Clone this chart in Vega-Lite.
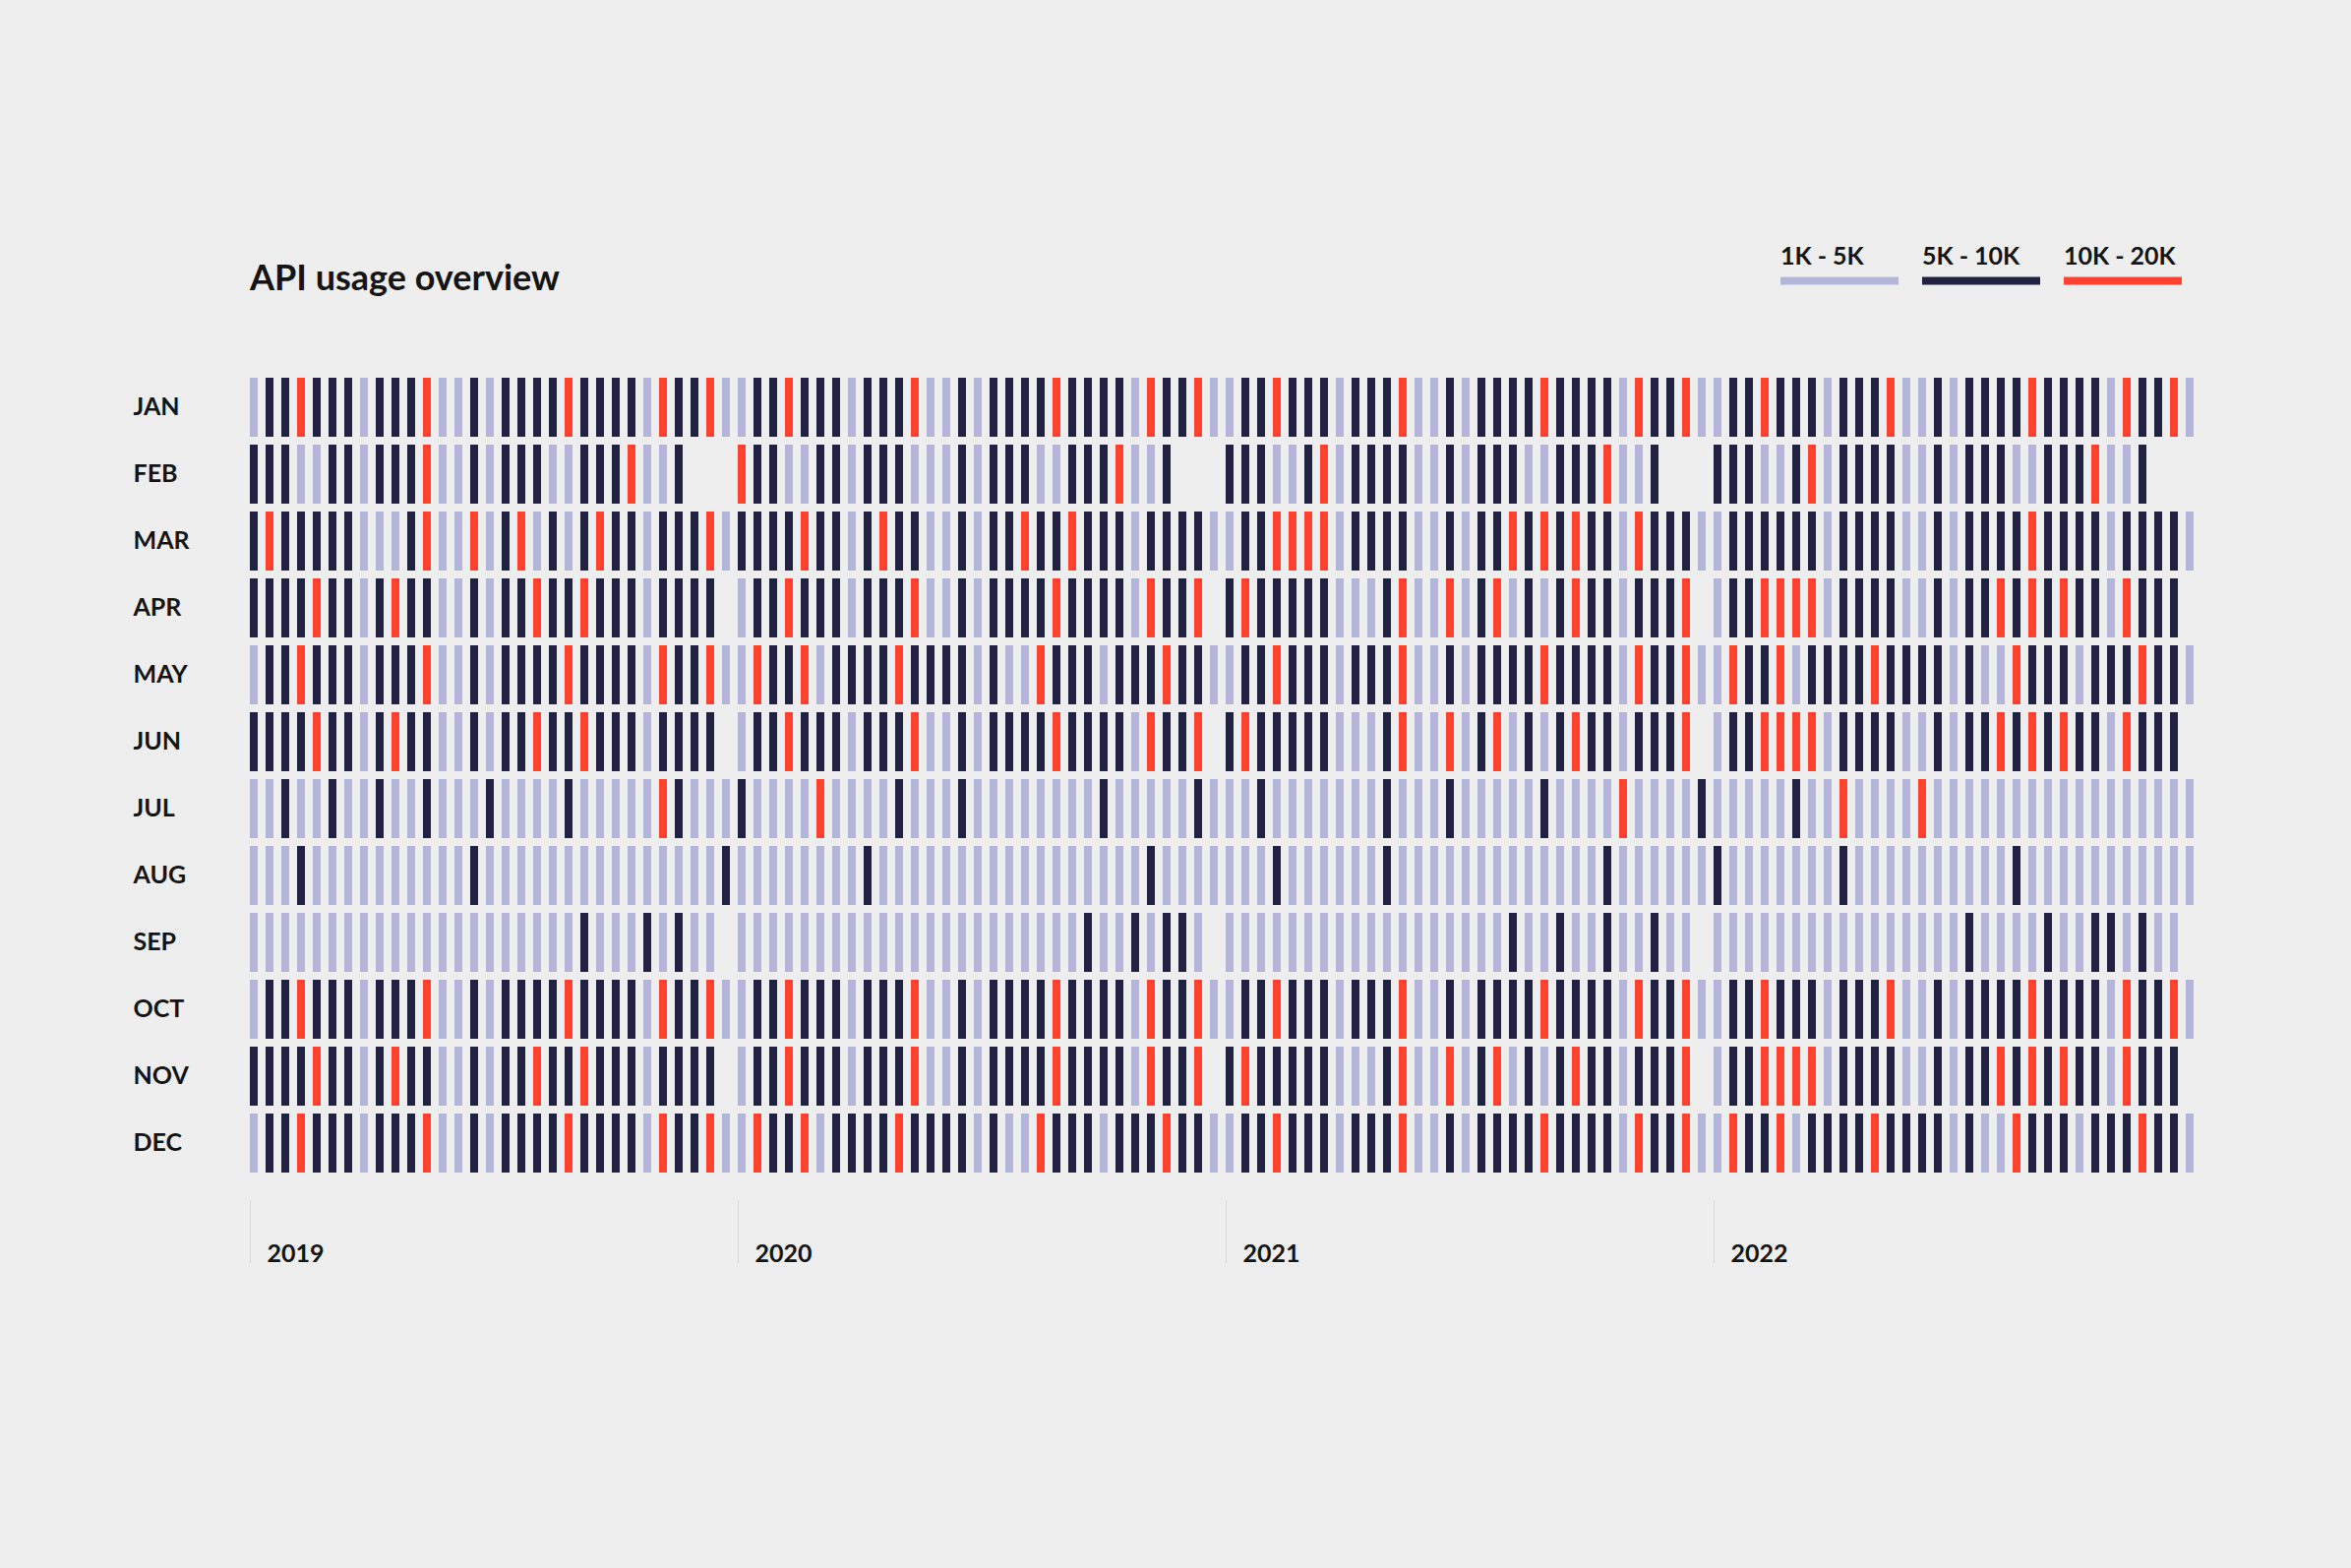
{"$schema":"https://vega.github.io/schema/vega-lite/v6.json","width":1984,"height":816,"autosize":{"type":"none"},"padding":{"left":250,"top":380,"right":156,"bottom":398},"background":"#eeeeee","title":{"text":"API usage overview","anchor":"start","frame":"group","orient":"top","offset":-66,"dx":4,"baseline":"alphabetic","font":"Lato","fontSize":36,"fontWeight":700,"color":"#141414"},"config":{"view":{"stroke":null}},
"data":{"values":[
{"year":2019,"month":"JAN","day":1,"usage":"low"},{"year":2019,"month":"JAN","day":2,"usage":"medium"},{"year":2019,"month":"JAN","day":3,"usage":"medium"},{"year":2019,"month":"JAN","day":4,"usage":"high"},{"year":2019,"month":"JAN","day":5,"usage":"medium"},{"year":2019,"month":"JAN","day":6,"usage":"medium"},{"year":2019,"month":"JAN","day":7,"usage":"medium"},{"year":2019,"month":"JAN","day":8,"usage":"low"},{"year":2019,"month":"JAN","day":9,"usage":"medium"},{"year":2019,"month":"JAN","day":10,"usage":"medium"},{"year":2019,"month":"JAN","day":11,"usage":"medium"},{"year":2019,"month":"JAN","day":12,"usage":"high"},{"year":2019,"month":"JAN","day":13,"usage":"low"},{"year":2019,"month":"JAN","day":14,"usage":"low"},{"year":2019,"month":"JAN","day":15,"usage":"medium"},{"year":2019,"month":"JAN","day":16,"usage":"low"},{"year":2019,"month":"JAN","day":17,"usage":"medium"},{"year":2019,"month":"JAN","day":18,"usage":"medium"},{"year":2019,"month":"JAN","day":19,"usage":"medium"},{"year":2019,"month":"JAN","day":20,"usage":"medium"},{"year":2019,"month":"JAN","day":21,"usage":"high"},{"year":2019,"month":"JAN","day":22,"usage":"medium"},{"year":2019,"month":"JAN","day":23,"usage":"medium"},{"year":2019,"month":"JAN","day":24,"usage":"medium"},{"year":2019,"month":"JAN","day":25,"usage":"medium"},{"year":2019,"month":"JAN","day":26,"usage":"low"},{"year":2019,"month":"JAN","day":27,"usage":"high"},{"year":2019,"month":"JAN","day":28,"usage":"medium"},{"year":2019,"month":"JAN","day":29,"usage":"medium"},{"year":2019,"month":"JAN","day":30,"usage":"high"},{"year":2019,"month":"JAN","day":31,"usage":"low"},
{"year":2019,"month":"FEB","day":1,"usage":"medium"},{"year":2019,"month":"FEB","day":2,"usage":"medium"},{"year":2019,"month":"FEB","day":3,"usage":"medium"},{"year":2019,"month":"FEB","day":4,"usage":"low"},{"year":2019,"month":"FEB","day":5,"usage":"low"},{"year":2019,"month":"FEB","day":6,"usage":"medium"},{"year":2019,"month":"FEB","day":7,"usage":"medium"},{"year":2019,"month":"FEB","day":8,"usage":"low"},{"year":2019,"month":"FEB","day":9,"usage":"medium"},{"year":2019,"month":"FEB","day":10,"usage":"medium"},{"year":2019,"month":"FEB","day":11,"usage":"medium"},{"year":2019,"month":"FEB","day":12,"usage":"high"},{"year":2019,"month":"FEB","day":13,"usage":"low"},{"year":2019,"month":"FEB","day":14,"usage":"low"},{"year":2019,"month":"FEB","day":15,"usage":"medium"},{"year":2019,"month":"FEB","day":16,"usage":"low"},{"year":2019,"month":"FEB","day":17,"usage":"medium"},{"year":2019,"month":"FEB","day":18,"usage":"medium"},{"year":2019,"month":"FEB","day":19,"usage":"medium"},{"year":2019,"month":"FEB","day":20,"usage":"low"},{"year":2019,"month":"FEB","day":21,"usage":"low"},{"year":2019,"month":"FEB","day":22,"usage":"medium"},{"year":2019,"month":"FEB","day":23,"usage":"medium"},{"year":2019,"month":"FEB","day":24,"usage":"medium"},{"year":2019,"month":"FEB","day":25,"usage":"high"},{"year":2019,"month":"FEB","day":26,"usage":"low"},{"year":2019,"month":"FEB","day":27,"usage":"low"},{"year":2019,"month":"FEB","day":28,"usage":"medium"},
{"year":2019,"month":"MAR","day":1,"usage":"medium"},{"year":2019,"month":"MAR","day":2,"usage":"high"},{"year":2019,"month":"MAR","day":3,"usage":"medium"},{"year":2019,"month":"MAR","day":4,"usage":"medium"},{"year":2019,"month":"MAR","day":5,"usage":"medium"},{"year":2019,"month":"MAR","day":6,"usage":"medium"},{"year":2019,"month":"MAR","day":7,"usage":"medium"},{"year":2019,"month":"MAR","day":8,"usage":"low"},{"year":2019,"month":"MAR","day":9,"usage":"low"},{"year":2019,"month":"MAR","day":10,"usage":"low"},{"year":2019,"month":"MAR","day":11,"usage":"medium"},{"year":2019,"month":"MAR","day":12,"usage":"high"},{"year":2019,"month":"MAR","day":13,"usage":"low"},{"year":2019,"month":"MAR","day":14,"usage":"low"},{"year":2019,"month":"MAR","day":15,"usage":"high"},{"year":2019,"month":"MAR","day":16,"usage":"low"},{"year":2019,"month":"MAR","day":17,"usage":"medium"},{"year":2019,"month":"MAR","day":18,"usage":"high"},{"year":2019,"month":"MAR","day":19,"usage":"low"},{"year":2019,"month":"MAR","day":20,"usage":"medium"},{"year":2019,"month":"MAR","day":21,"usage":"low"},{"year":2019,"month":"MAR","day":22,"usage":"medium"},{"year":2019,"month":"MAR","day":23,"usage":"high"},{"year":2019,"month":"MAR","day":24,"usage":"medium"},{"year":2019,"month":"MAR","day":25,"usage":"medium"},{"year":2019,"month":"MAR","day":26,"usage":"low"},{"year":2019,"month":"MAR","day":27,"usage":"medium"},{"year":2019,"month":"MAR","day":28,"usage":"medium"},{"year":2019,"month":"MAR","day":29,"usage":"medium"},{"year":2019,"month":"MAR","day":30,"usage":"high"},{"year":2019,"month":"MAR","day":31,"usage":"low"},
{"year":2019,"month":"APR","day":1,"usage":"medium"},{"year":2019,"month":"APR","day":2,"usage":"medium"},{"year":2019,"month":"APR","day":3,"usage":"medium"},{"year":2019,"month":"APR","day":4,"usage":"medium"},{"year":2019,"month":"APR","day":5,"usage":"high"},{"year":2019,"month":"APR","day":6,"usage":"medium"},{"year":2019,"month":"APR","day":7,"usage":"medium"},{"year":2019,"month":"APR","day":8,"usage":"low"},{"year":2019,"month":"APR","day":9,"usage":"medium"},{"year":2019,"month":"APR","day":10,"usage":"high"},{"year":2019,"month":"APR","day":11,"usage":"medium"},{"year":2019,"month":"APR","day":12,"usage":"medium"},{"year":2019,"month":"APR","day":13,"usage":"low"},{"year":2019,"month":"APR","day":14,"usage":"low"},{"year":2019,"month":"APR","day":15,"usage":"medium"},{"year":2019,"month":"APR","day":16,"usage":"low"},{"year":2019,"month":"APR","day":17,"usage":"medium"},{"year":2019,"month":"APR","day":18,"usage":"medium"},{"year":2019,"month":"APR","day":19,"usage":"high"},{"year":2019,"month":"APR","day":20,"usage":"medium"},{"year":2019,"month":"APR","day":21,"usage":"medium"},{"year":2019,"month":"APR","day":22,"usage":"high"},{"year":2019,"month":"APR","day":23,"usage":"medium"},{"year":2019,"month":"APR","day":24,"usage":"medium"},{"year":2019,"month":"APR","day":25,"usage":"medium"},{"year":2019,"month":"APR","day":26,"usage":"low"},{"year":2019,"month":"APR","day":27,"usage":"medium"},{"year":2019,"month":"APR","day":28,"usage":"medium"},{"year":2019,"month":"APR","day":29,"usage":"medium"},{"year":2019,"month":"APR","day":30,"usage":"medium"},
{"year":2019,"month":"MAY","day":1,"usage":"low"},{"year":2019,"month":"MAY","day":2,"usage":"medium"},{"year":2019,"month":"MAY","day":3,"usage":"medium"},{"year":2019,"month":"MAY","day":4,"usage":"high"},{"year":2019,"month":"MAY","day":5,"usage":"medium"},{"year":2019,"month":"MAY","day":6,"usage":"medium"},{"year":2019,"month":"MAY","day":7,"usage":"medium"},{"year":2019,"month":"MAY","day":8,"usage":"low"},{"year":2019,"month":"MAY","day":9,"usage":"medium"},{"year":2019,"month":"MAY","day":10,"usage":"medium"},{"year":2019,"month":"MAY","day":11,"usage":"medium"},{"year":2019,"month":"MAY","day":12,"usage":"high"},{"year":2019,"month":"MAY","day":13,"usage":"low"},{"year":2019,"month":"MAY","day":14,"usage":"low"},{"year":2019,"month":"MAY","day":15,"usage":"medium"},{"year":2019,"month":"MAY","day":16,"usage":"low"},{"year":2019,"month":"MAY","day":17,"usage":"medium"},{"year":2019,"month":"MAY","day":18,"usage":"medium"},{"year":2019,"month":"MAY","day":19,"usage":"medium"},{"year":2019,"month":"MAY","day":20,"usage":"medium"},{"year":2019,"month":"MAY","day":21,"usage":"high"},{"year":2019,"month":"MAY","day":22,"usage":"medium"},{"year":2019,"month":"MAY","day":23,"usage":"medium"},{"year":2019,"month":"MAY","day":24,"usage":"medium"},{"year":2019,"month":"MAY","day":25,"usage":"medium"},{"year":2019,"month":"MAY","day":26,"usage":"low"},{"year":2019,"month":"MAY","day":27,"usage":"high"},{"year":2019,"month":"MAY","day":28,"usage":"medium"},{"year":2019,"month":"MAY","day":29,"usage":"medium"},{"year":2019,"month":"MAY","day":30,"usage":"high"},{"year":2019,"month":"MAY","day":31,"usage":"low"},
{"year":2019,"month":"JUN","day":1,"usage":"medium"},{"year":2019,"month":"JUN","day":2,"usage":"medium"},{"year":2019,"month":"JUN","day":3,"usage":"medium"},{"year":2019,"month":"JUN","day":4,"usage":"medium"},{"year":2019,"month":"JUN","day":5,"usage":"high"},{"year":2019,"month":"JUN","day":6,"usage":"medium"},{"year":2019,"month":"JUN","day":7,"usage":"medium"},{"year":2019,"month":"JUN","day":8,"usage":"low"},{"year":2019,"month":"JUN","day":9,"usage":"medium"},{"year":2019,"month":"JUN","day":10,"usage":"high"},{"year":2019,"month":"JUN","day":11,"usage":"medium"},{"year":2019,"month":"JUN","day":12,"usage":"medium"},{"year":2019,"month":"JUN","day":13,"usage":"low"},{"year":2019,"month":"JUN","day":14,"usage":"low"},{"year":2019,"month":"JUN","day":15,"usage":"medium"},{"year":2019,"month":"JUN","day":16,"usage":"low"},{"year":2019,"month":"JUN","day":17,"usage":"medium"},{"year":2019,"month":"JUN","day":18,"usage":"medium"},{"year":2019,"month":"JUN","day":19,"usage":"high"},{"year":2019,"month":"JUN","day":20,"usage":"medium"},{"year":2019,"month":"JUN","day":21,"usage":"medium"},{"year":2019,"month":"JUN","day":22,"usage":"high"},{"year":2019,"month":"JUN","day":23,"usage":"medium"},{"year":2019,"month":"JUN","day":24,"usage":"medium"},{"year":2019,"month":"JUN","day":25,"usage":"medium"},{"year":2019,"month":"JUN","day":26,"usage":"low"},{"year":2019,"month":"JUN","day":27,"usage":"medium"},{"year":2019,"month":"JUN","day":28,"usage":"medium"},{"year":2019,"month":"JUN","day":29,"usage":"medium"},{"year":2019,"month":"JUN","day":30,"usage":"medium"},
{"year":2019,"month":"JUL","day":1,"usage":"low"},{"year":2019,"month":"JUL","day":2,"usage":"low"},{"year":2019,"month":"JUL","day":3,"usage":"medium"},{"year":2019,"month":"JUL","day":4,"usage":"low"},{"year":2019,"month":"JUL","day":5,"usage":"low"},{"year":2019,"month":"JUL","day":6,"usage":"medium"},{"year":2019,"month":"JUL","day":7,"usage":"low"},{"year":2019,"month":"JUL","day":8,"usage":"low"},{"year":2019,"month":"JUL","day":9,"usage":"medium"},{"year":2019,"month":"JUL","day":10,"usage":"low"},{"year":2019,"month":"JUL","day":11,"usage":"low"},{"year":2019,"month":"JUL","day":12,"usage":"medium"},{"year":2019,"month":"JUL","day":13,"usage":"low"},{"year":2019,"month":"JUL","day":14,"usage":"low"},{"year":2019,"month":"JUL","day":15,"usage":"low"},{"year":2019,"month":"JUL","day":16,"usage":"medium"},{"year":2019,"month":"JUL","day":17,"usage":"low"},{"year":2019,"month":"JUL","day":18,"usage":"low"},{"year":2019,"month":"JUL","day":19,"usage":"low"},{"year":2019,"month":"JUL","day":20,"usage":"low"},{"year":2019,"month":"JUL","day":21,"usage":"medium"},{"year":2019,"month":"JUL","day":22,"usage":"low"},{"year":2019,"month":"JUL","day":23,"usage":"low"},{"year":2019,"month":"JUL","day":24,"usage":"low"},{"year":2019,"month":"JUL","day":25,"usage":"low"},{"year":2019,"month":"JUL","day":26,"usage":"low"},{"year":2019,"month":"JUL","day":27,"usage":"high"},{"year":2019,"month":"JUL","day":28,"usage":"medium"},{"year":2019,"month":"JUL","day":29,"usage":"low"},{"year":2019,"month":"JUL","day":30,"usage":"low"},{"year":2019,"month":"JUL","day":31,"usage":"low"},
{"year":2019,"month":"AUG","day":1,"usage":"low"},{"year":2019,"month":"AUG","day":2,"usage":"low"},{"year":2019,"month":"AUG","day":3,"usage":"low"},{"year":2019,"month":"AUG","day":4,"usage":"medium"},{"year":2019,"month":"AUG","day":5,"usage":"low"},{"year":2019,"month":"AUG","day":6,"usage":"low"},{"year":2019,"month":"AUG","day":7,"usage":"low"},{"year":2019,"month":"AUG","day":8,"usage":"low"},{"year":2019,"month":"AUG","day":9,"usage":"low"},{"year":2019,"month":"AUG","day":10,"usage":"low"},{"year":2019,"month":"AUG","day":11,"usage":"low"},{"year":2019,"month":"AUG","day":12,"usage":"low"},{"year":2019,"month":"AUG","day":13,"usage":"low"},{"year":2019,"month":"AUG","day":14,"usage":"low"},{"year":2019,"month":"AUG","day":15,"usage":"medium"},{"year":2019,"month":"AUG","day":16,"usage":"low"},{"year":2019,"month":"AUG","day":17,"usage":"low"},{"year":2019,"month":"AUG","day":18,"usage":"low"},{"year":2019,"month":"AUG","day":19,"usage":"low"},{"year":2019,"month":"AUG","day":20,"usage":"low"},{"year":2019,"month":"AUG","day":21,"usage":"low"},{"year":2019,"month":"AUG","day":22,"usage":"low"},{"year":2019,"month":"AUG","day":23,"usage":"low"},{"year":2019,"month":"AUG","day":24,"usage":"low"},{"year":2019,"month":"AUG","day":25,"usage":"low"},{"year":2019,"month":"AUG","day":26,"usage":"low"},{"year":2019,"month":"AUG","day":27,"usage":"low"},{"year":2019,"month":"AUG","day":28,"usage":"low"},{"year":2019,"month":"AUG","day":29,"usage":"low"},{"year":2019,"month":"AUG","day":30,"usage":"low"},{"year":2019,"month":"AUG","day":31,"usage":"medium"},
{"year":2019,"month":"SEP","day":1,"usage":"low"},{"year":2019,"month":"SEP","day":2,"usage":"low"},{"year":2019,"month":"SEP","day":3,"usage":"low"},{"year":2019,"month":"SEP","day":4,"usage":"low"},{"year":2019,"month":"SEP","day":5,"usage":"low"},{"year":2019,"month":"SEP","day":6,"usage":"low"},{"year":2019,"month":"SEP","day":7,"usage":"low"},{"year":2019,"month":"SEP","day":8,"usage":"low"},{"year":2019,"month":"SEP","day":9,"usage":"low"},{"year":2019,"month":"SEP","day":10,"usage":"low"},{"year":2019,"month":"SEP","day":11,"usage":"low"},{"year":2019,"month":"SEP","day":12,"usage":"low"},{"year":2019,"month":"SEP","day":13,"usage":"low"},{"year":2019,"month":"SEP","day":14,"usage":"low"},{"year":2019,"month":"SEP","day":15,"usage":"low"},{"year":2019,"month":"SEP","day":16,"usage":"low"},{"year":2019,"month":"SEP","day":17,"usage":"low"},{"year":2019,"month":"SEP","day":18,"usage":"low"},{"year":2019,"month":"SEP","day":19,"usage":"low"},{"year":2019,"month":"SEP","day":20,"usage":"low"},{"year":2019,"month":"SEP","day":21,"usage":"low"},{"year":2019,"month":"SEP","day":22,"usage":"medium"},{"year":2019,"month":"SEP","day":23,"usage":"low"},{"year":2019,"month":"SEP","day":24,"usage":"low"},{"year":2019,"month":"SEP","day":25,"usage":"low"},{"year":2019,"month":"SEP","day":26,"usage":"medium"},{"year":2019,"month":"SEP","day":27,"usage":"low"},{"year":2019,"month":"SEP","day":28,"usage":"medium"},{"year":2019,"month":"SEP","day":29,"usage":"low"},{"year":2019,"month":"SEP","day":30,"usage":"low"},
{"year":2019,"month":"OCT","day":1,"usage":"low"},{"year":2019,"month":"OCT","day":2,"usage":"medium"},{"year":2019,"month":"OCT","day":3,"usage":"medium"},{"year":2019,"month":"OCT","day":4,"usage":"high"},{"year":2019,"month":"OCT","day":5,"usage":"medium"},{"year":2019,"month":"OCT","day":6,"usage":"medium"},{"year":2019,"month":"OCT","day":7,"usage":"medium"},{"year":2019,"month":"OCT","day":8,"usage":"low"},{"year":2019,"month":"OCT","day":9,"usage":"medium"},{"year":2019,"month":"OCT","day":10,"usage":"medium"},{"year":2019,"month":"OCT","day":11,"usage":"medium"},{"year":2019,"month":"OCT","day":12,"usage":"high"},{"year":2019,"month":"OCT","day":13,"usage":"low"},{"year":2019,"month":"OCT","day":14,"usage":"low"},{"year":2019,"month":"OCT","day":15,"usage":"medium"},{"year":2019,"month":"OCT","day":16,"usage":"low"},{"year":2019,"month":"OCT","day":17,"usage":"medium"},{"year":2019,"month":"OCT","day":18,"usage":"medium"},{"year":2019,"month":"OCT","day":19,"usage":"medium"},{"year":2019,"month":"OCT","day":20,"usage":"medium"},{"year":2019,"month":"OCT","day":21,"usage":"high"},{"year":2019,"month":"OCT","day":22,"usage":"medium"},{"year":2019,"month":"OCT","day":23,"usage":"medium"},{"year":2019,"month":"OCT","day":24,"usage":"medium"},{"year":2019,"month":"OCT","day":25,"usage":"medium"},{"year":2019,"month":"OCT","day":26,"usage":"low"},{"year":2019,"month":"OCT","day":27,"usage":"high"},{"year":2019,"month":"OCT","day":28,"usage":"medium"},{"year":2019,"month":"OCT","day":29,"usage":"medium"},{"year":2019,"month":"OCT","day":30,"usage":"high"},{"year":2019,"month":"OCT","day":31,"usage":"low"},
{"year":2019,"month":"NOV","day":1,"usage":"medium"},{"year":2019,"month":"NOV","day":2,"usage":"medium"},{"year":2019,"month":"NOV","day":3,"usage":"medium"},{"year":2019,"month":"NOV","day":4,"usage":"medium"},{"year":2019,"month":"NOV","day":5,"usage":"high"},{"year":2019,"month":"NOV","day":6,"usage":"medium"},{"year":2019,"month":"NOV","day":7,"usage":"medium"},{"year":2019,"month":"NOV","day":8,"usage":"low"},{"year":2019,"month":"NOV","day":9,"usage":"medium"},{"year":2019,"month":"NOV","day":10,"usage":"high"},{"year":2019,"month":"NOV","day":11,"usage":"medium"},{"year":2019,"month":"NOV","day":12,"usage":"medium"},{"year":2019,"month":"NOV","day":13,"usage":"low"},{"year":2019,"month":"NOV","day":14,"usage":"low"},{"year":2019,"month":"NOV","day":15,"usage":"medium"},{"year":2019,"month":"NOV","day":16,"usage":"low"},{"year":2019,"month":"NOV","day":17,"usage":"medium"},{"year":2019,"month":"NOV","day":18,"usage":"medium"},{"year":2019,"month":"NOV","day":19,"usage":"high"},{"year":2019,"month":"NOV","day":20,"usage":"medium"},{"year":2019,"month":"NOV","day":21,"usage":"medium"},{"year":2019,"month":"NOV","day":22,"usage":"high"},{"year":2019,"month":"NOV","day":23,"usage":"medium"},{"year":2019,"month":"NOV","day":24,"usage":"medium"},{"year":2019,"month":"NOV","day":25,"usage":"medium"},{"year":2019,"month":"NOV","day":26,"usage":"low"},{"year":2019,"month":"NOV","day":27,"usage":"medium"},{"year":2019,"month":"NOV","day":28,"usage":"medium"},{"year":2019,"month":"NOV","day":29,"usage":"medium"},{"year":2019,"month":"NOV","day":30,"usage":"medium"},
{"year":2019,"month":"DEC","day":1,"usage":"low"},{"year":2019,"month":"DEC","day":2,"usage":"medium"},{"year":2019,"month":"DEC","day":3,"usage":"medium"},{"year":2019,"month":"DEC","day":4,"usage":"high"},{"year":2019,"month":"DEC","day":5,"usage":"medium"},{"year":2019,"month":"DEC","day":6,"usage":"medium"},{"year":2019,"month":"DEC","day":7,"usage":"medium"},{"year":2019,"month":"DEC","day":8,"usage":"low"},{"year":2019,"month":"DEC","day":9,"usage":"medium"},{"year":2019,"month":"DEC","day":10,"usage":"medium"},{"year":2019,"month":"DEC","day":11,"usage":"medium"},{"year":2019,"month":"DEC","day":12,"usage":"high"},{"year":2019,"month":"DEC","day":13,"usage":"low"},{"year":2019,"month":"DEC","day":14,"usage":"low"},{"year":2019,"month":"DEC","day":15,"usage":"medium"},{"year":2019,"month":"DEC","day":16,"usage":"low"},{"year":2019,"month":"DEC","day":17,"usage":"medium"},{"year":2019,"month":"DEC","day":18,"usage":"medium"},{"year":2019,"month":"DEC","day":19,"usage":"medium"},{"year":2019,"month":"DEC","day":20,"usage":"medium"},{"year":2019,"month":"DEC","day":21,"usage":"high"},{"year":2019,"month":"DEC","day":22,"usage":"medium"},{"year":2019,"month":"DEC","day":23,"usage":"medium"},{"year":2019,"month":"DEC","day":24,"usage":"medium"},{"year":2019,"month":"DEC","day":25,"usage":"medium"},{"year":2019,"month":"DEC","day":26,"usage":"low"},{"year":2019,"month":"DEC","day":27,"usage":"high"},{"year":2019,"month":"DEC","day":28,"usage":"medium"},{"year":2019,"month":"DEC","day":29,"usage":"medium"},{"year":2019,"month":"DEC","day":30,"usage":"high"},{"year":2019,"month":"DEC","day":31,"usage":"low"},
{"year":2020,"month":"JAN","day":1,"usage":"low"},{"year":2020,"month":"JAN","day":2,"usage":"medium"},{"year":2020,"month":"JAN","day":3,"usage":"medium"},{"year":2020,"month":"JAN","day":4,"usage":"high"},{"year":2020,"month":"JAN","day":5,"usage":"medium"},{"year":2020,"month":"JAN","day":6,"usage":"medium"},{"year":2020,"month":"JAN","day":7,"usage":"medium"},{"year":2020,"month":"JAN","day":8,"usage":"low"},{"year":2020,"month":"JAN","day":9,"usage":"medium"},{"year":2020,"month":"JAN","day":10,"usage":"medium"},{"year":2020,"month":"JAN","day":11,"usage":"medium"},{"year":2020,"month":"JAN","day":12,"usage":"high"},{"year":2020,"month":"JAN","day":13,"usage":"low"},{"year":2020,"month":"JAN","day":14,"usage":"low"},{"year":2020,"month":"JAN","day":15,"usage":"medium"},{"year":2020,"month":"JAN","day":16,"usage":"low"},{"year":2020,"month":"JAN","day":17,"usage":"medium"},{"year":2020,"month":"JAN","day":18,"usage":"medium"},{"year":2020,"month":"JAN","day":19,"usage":"medium"},{"year":2020,"month":"JAN","day":20,"usage":"medium"},{"year":2020,"month":"JAN","day":21,"usage":"high"},{"year":2020,"month":"JAN","day":22,"usage":"medium"},{"year":2020,"month":"JAN","day":23,"usage":"medium"},{"year":2020,"month":"JAN","day":24,"usage":"medium"},{"year":2020,"month":"JAN","day":25,"usage":"medium"},{"year":2020,"month":"JAN","day":26,"usage":"low"},{"year":2020,"month":"JAN","day":27,"usage":"high"},{"year":2020,"month":"JAN","day":28,"usage":"medium"},{"year":2020,"month":"JAN","day":29,"usage":"medium"},{"year":2020,"month":"JAN","day":30,"usage":"high"},{"year":2020,"month":"JAN","day":31,"usage":"low"},
{"year":2020,"month":"FEB","day":1,"usage":"high"},{"year":2020,"month":"FEB","day":2,"usage":"medium"},{"year":2020,"month":"FEB","day":3,"usage":"medium"},{"year":2020,"month":"FEB","day":4,"usage":"low"},{"year":2020,"month":"FEB","day":5,"usage":"low"},{"year":2020,"month":"FEB","day":6,"usage":"medium"},{"year":2020,"month":"FEB","day":7,"usage":"medium"},{"year":2020,"month":"FEB","day":8,"usage":"low"},{"year":2020,"month":"FEB","day":9,"usage":"medium"},{"year":2020,"month":"FEB","day":10,"usage":"medium"},{"year":2020,"month":"FEB","day":11,"usage":"medium"},{"year":2020,"month":"FEB","day":12,"usage":"low"},{"year":2020,"month":"FEB","day":13,"usage":"low"},{"year":2020,"month":"FEB","day":14,"usage":"low"},{"year":2020,"month":"FEB","day":15,"usage":"medium"},{"year":2020,"month":"FEB","day":16,"usage":"low"},{"year":2020,"month":"FEB","day":17,"usage":"medium"},{"year":2020,"month":"FEB","day":18,"usage":"medium"},{"year":2020,"month":"FEB","day":19,"usage":"medium"},{"year":2020,"month":"FEB","day":20,"usage":"low"},{"year":2020,"month":"FEB","day":21,"usage":"low"},{"year":2020,"month":"FEB","day":22,"usage":"medium"},{"year":2020,"month":"FEB","day":23,"usage":"medium"},{"year":2020,"month":"FEB","day":24,"usage":"medium"},{"year":2020,"month":"FEB","day":25,"usage":"high"},{"year":2020,"month":"FEB","day":26,"usage":"low"},{"year":2020,"month":"FEB","day":27,"usage":"low"},{"year":2020,"month":"FEB","day":28,"usage":"medium"},
{"year":2020,"month":"MAR","day":1,"usage":"medium"},{"year":2020,"month":"MAR","day":2,"usage":"medium"},{"year":2020,"month":"MAR","day":3,"usage":"medium"},{"year":2020,"month":"MAR","day":4,"usage":"medium"},{"year":2020,"month":"MAR","day":5,"usage":"high"},{"year":2020,"month":"MAR","day":6,"usage":"medium"},{"year":2020,"month":"MAR","day":7,"usage":"medium"},{"year":2020,"month":"MAR","day":8,"usage":"low"},{"year":2020,"month":"MAR","day":9,"usage":"medium"},{"year":2020,"month":"MAR","day":10,"usage":"high"},{"year":2020,"month":"MAR","day":11,"usage":"medium"},{"year":2020,"month":"MAR","day":12,"usage":"medium"},{"year":2020,"month":"MAR","day":13,"usage":"low"},{"year":2020,"month":"MAR","day":14,"usage":"low"},{"year":2020,"month":"MAR","day":15,"usage":"medium"},{"year":2020,"month":"MAR","day":16,"usage":"low"},{"year":2020,"month":"MAR","day":17,"usage":"medium"},{"year":2020,"month":"MAR","day":18,"usage":"medium"},{"year":2020,"month":"MAR","day":19,"usage":"high"},{"year":2020,"month":"MAR","day":20,"usage":"medium"},{"year":2020,"month":"MAR","day":21,"usage":"medium"},{"year":2020,"month":"MAR","day":22,"usage":"high"},{"year":2020,"month":"MAR","day":23,"usage":"medium"},{"year":2020,"month":"MAR","day":24,"usage":"medium"},{"year":2020,"month":"MAR","day":25,"usage":"medium"},{"year":2020,"month":"MAR","day":26,"usage":"low"},{"year":2020,"month":"MAR","day":27,"usage":"medium"},{"year":2020,"month":"MAR","day":28,"usage":"medium"},{"year":2020,"month":"MAR","day":29,"usage":"medium"},{"year":2020,"month":"MAR","day":30,"usage":"medium"},{"year":2020,"month":"MAR","day":31,"usage":"low"},
{"year":2020,"month":"APR","day":1,"usage":"low"},{"year":2020,"month":"APR","day":2,"usage":"medium"},{"year":2020,"month":"APR","day":3,"usage":"medium"},{"year":2020,"month":"APR","day":4,"usage":"high"},{"year":2020,"month":"APR","day":5,"usage":"medium"},{"year":2020,"month":"APR","day":6,"usage":"medium"},{"year":2020,"month":"APR","day":7,"usage":"medium"},{"year":2020,"month":"APR","day":8,"usage":"low"},{"year":2020,"month":"APR","day":9,"usage":"medium"},{"year":2020,"month":"APR","day":10,"usage":"medium"},{"year":2020,"month":"APR","day":11,"usage":"medium"},{"year":2020,"month":"APR","day":12,"usage":"high"},{"year":2020,"month":"APR","day":13,"usage":"low"},{"year":2020,"month":"APR","day":14,"usage":"low"},{"year":2020,"month":"APR","day":15,"usage":"medium"},{"year":2020,"month":"APR","day":16,"usage":"low"},{"year":2020,"month":"APR","day":17,"usage":"medium"},{"year":2020,"month":"APR","day":18,"usage":"medium"},{"year":2020,"month":"APR","day":19,"usage":"medium"},{"year":2020,"month":"APR","day":20,"usage":"medium"},{"year":2020,"month":"APR","day":21,"usage":"high"},{"year":2020,"month":"APR","day":22,"usage":"medium"},{"year":2020,"month":"APR","day":23,"usage":"medium"},{"year":2020,"month":"APR","day":24,"usage":"medium"},{"year":2020,"month":"APR","day":25,"usage":"medium"},{"year":2020,"month":"APR","day":26,"usage":"low"},{"year":2020,"month":"APR","day":27,"usage":"high"},{"year":2020,"month":"APR","day":28,"usage":"medium"},{"year":2020,"month":"APR","day":29,"usage":"medium"},{"year":2020,"month":"APR","day":30,"usage":"high"},
{"year":2020,"month":"MAY","day":1,"usage":"low"},{"year":2020,"month":"MAY","day":2,"usage":"high"},{"year":2020,"month":"MAY","day":3,"usage":"medium"},{"year":2020,"month":"MAY","day":4,"usage":"medium"},{"year":2020,"month":"MAY","day":5,"usage":"high"},{"year":2020,"month":"MAY","day":6,"usage":"low"},{"year":2020,"month":"MAY","day":7,"usage":"medium"},{"year":2020,"month":"MAY","day":8,"usage":"medium"},{"year":2020,"month":"MAY","day":9,"usage":"medium"},{"year":2020,"month":"MAY","day":10,"usage":"medium"},{"year":2020,"month":"MAY","day":11,"usage":"high"},{"year":2020,"month":"MAY","day":12,"usage":"medium"},{"year":2020,"month":"MAY","day":13,"usage":"medium"},{"year":2020,"month":"MAY","day":14,"usage":"medium"},{"year":2020,"month":"MAY","day":15,"usage":"medium"},{"year":2020,"month":"MAY","day":16,"usage":"low"},{"year":2020,"month":"MAY","day":17,"usage":"medium"},{"year":2020,"month":"MAY","day":18,"usage":"low"},{"year":2020,"month":"MAY","day":19,"usage":"low"},{"year":2020,"month":"MAY","day":20,"usage":"high"},{"year":2020,"month":"MAY","day":21,"usage":"medium"},{"year":2020,"month":"MAY","day":22,"usage":"medium"},{"year":2020,"month":"MAY","day":23,"usage":"medium"},{"year":2020,"month":"MAY","day":24,"usage":"low"},{"year":2020,"month":"MAY","day":25,"usage":"medium"},{"year":2020,"month":"MAY","day":26,"usage":"medium"},{"year":2020,"month":"MAY","day":27,"usage":"medium"},{"year":2020,"month":"MAY","day":28,"usage":"high"},{"year":2020,"month":"MAY","day":29,"usage":"medium"},{"year":2020,"month":"MAY","day":30,"usage":"medium"},{"year":2020,"month":"MAY","day":31,"usage":"low"},
{"year":2020,"month":"JUN","day":1,"usage":"low"},{"year":2020,"month":"JUN","day":2,"usage":"medium"},{"year":2020,"month":"JUN","day":3,"usage":"medium"},{"year":2020,"month":"JUN","day":4,"usage":"high"},{"year":2020,"month":"JUN","day":5,"usage":"medium"},{"year":2020,"month":"JUN","day":6,"usage":"medium"},{"year":2020,"month":"JUN","day":7,"usage":"medium"},{"year":2020,"month":"JUN","day":8,"usage":"low"},{"year":2020,"month":"JUN","day":9,"usage":"medium"},{"year":2020,"month":"JUN","day":10,"usage":"medium"},{"year":2020,"month":"JUN","day":11,"usage":"medium"},{"year":2020,"month":"JUN","day":12,"usage":"high"},{"year":2020,"month":"JUN","day":13,"usage":"low"},{"year":2020,"month":"JUN","day":14,"usage":"low"},{"year":2020,"month":"JUN","day":15,"usage":"medium"},{"year":2020,"month":"JUN","day":16,"usage":"low"},{"year":2020,"month":"JUN","day":17,"usage":"medium"},{"year":2020,"month":"JUN","day":18,"usage":"medium"},{"year":2020,"month":"JUN","day":19,"usage":"medium"},{"year":2020,"month":"JUN","day":20,"usage":"medium"},{"year":2020,"month":"JUN","day":21,"usage":"high"},{"year":2020,"month":"JUN","day":22,"usage":"medium"},{"year":2020,"month":"JUN","day":23,"usage":"medium"},{"year":2020,"month":"JUN","day":24,"usage":"medium"},{"year":2020,"month":"JUN","day":25,"usage":"medium"},{"year":2020,"month":"JUN","day":26,"usage":"low"},{"year":2020,"month":"JUN","day":27,"usage":"high"},{"year":2020,"month":"JUN","day":28,"usage":"medium"},{"year":2020,"month":"JUN","day":29,"usage":"medium"},{"year":2020,"month":"JUN","day":30,"usage":"high"},
{"year":2020,"month":"JUL","day":1,"usage":"medium"},{"year":2020,"month":"JUL","day":2,"usage":"low"},{"year":2020,"month":"JUL","day":3,"usage":"low"},{"year":2020,"month":"JUL","day":4,"usage":"low"},{"year":2020,"month":"JUL","day":5,"usage":"low"},{"year":2020,"month":"JUL","day":6,"usage":"high"},{"year":2020,"month":"JUL","day":7,"usage":"low"},{"year":2020,"month":"JUL","day":8,"usage":"low"},{"year":2020,"month":"JUL","day":9,"usage":"low"},{"year":2020,"month":"JUL","day":10,"usage":"low"},{"year":2020,"month":"JUL","day":11,"usage":"medium"},{"year":2020,"month":"JUL","day":12,"usage":"low"},{"year":2020,"month":"JUL","day":13,"usage":"low"},{"year":2020,"month":"JUL","day":14,"usage":"low"},{"year":2020,"month":"JUL","day":15,"usage":"medium"},{"year":2020,"month":"JUL","day":16,"usage":"low"},{"year":2020,"month":"JUL","day":17,"usage":"low"},{"year":2020,"month":"JUL","day":18,"usage":"low"},{"year":2020,"month":"JUL","day":19,"usage":"low"},{"year":2020,"month":"JUL","day":20,"usage":"low"},{"year":2020,"month":"JUL","day":21,"usage":"low"},{"year":2020,"month":"JUL","day":22,"usage":"low"},{"year":2020,"month":"JUL","day":23,"usage":"low"},{"year":2020,"month":"JUL","day":24,"usage":"medium"},{"year":2020,"month":"JUL","day":25,"usage":"low"},{"year":2020,"month":"JUL","day":26,"usage":"low"},{"year":2020,"month":"JUL","day":27,"usage":"low"},{"year":2020,"month":"JUL","day":28,"usage":"low"},{"year":2020,"month":"JUL","day":29,"usage":"low"},{"year":2020,"month":"JUL","day":30,"usage":"medium"},{"year":2020,"month":"JUL","day":31,"usage":"low"},
{"year":2020,"month":"AUG","day":1,"usage":"low"},{"year":2020,"month":"AUG","day":2,"usage":"low"},{"year":2020,"month":"AUG","day":3,"usage":"low"},{"year":2020,"month":"AUG","day":4,"usage":"low"},{"year":2020,"month":"AUG","day":5,"usage":"low"},{"year":2020,"month":"AUG","day":6,"usage":"low"},{"year":2020,"month":"AUG","day":7,"usage":"low"},{"year":2020,"month":"AUG","day":8,"usage":"low"},{"year":2020,"month":"AUG","day":9,"usage":"medium"},{"year":2020,"month":"AUG","day":10,"usage":"low"},{"year":2020,"month":"AUG","day":11,"usage":"low"},{"year":2020,"month":"AUG","day":12,"usage":"low"},{"year":2020,"month":"AUG","day":13,"usage":"low"},{"year":2020,"month":"AUG","day":14,"usage":"low"},{"year":2020,"month":"AUG","day":15,"usage":"low"},{"year":2020,"month":"AUG","day":16,"usage":"low"},{"year":2020,"month":"AUG","day":17,"usage":"low"},{"year":2020,"month":"AUG","day":18,"usage":"low"},{"year":2020,"month":"AUG","day":19,"usage":"low"},{"year":2020,"month":"AUG","day":20,"usage":"low"},{"year":2020,"month":"AUG","day":21,"usage":"low"},{"year":2020,"month":"AUG","day":22,"usage":"low"},{"year":2020,"month":"AUG","day":23,"usage":"low"},{"year":2020,"month":"AUG","day":24,"usage":"low"},{"year":2020,"month":"AUG","day":25,"usage":"low"},{"year":2020,"month":"AUG","day":26,"usage":"low"},{"year":2020,"month":"AUG","day":27,"usage":"medium"},{"year":2020,"month":"AUG","day":28,"usage":"low"},{"year":2020,"month":"AUG","day":29,"usage":"low"},{"year":2020,"month":"AUG","day":30,"usage":"low"},{"year":2020,"month":"AUG","day":31,"usage":"low"},
{"year":2020,"month":"SEP","day":1,"usage":"low"},{"year":2020,"month":"SEP","day":2,"usage":"low"},{"year":2020,"month":"SEP","day":3,"usage":"low"},{"year":2020,"month":"SEP","day":4,"usage":"low"},{"year":2020,"month":"SEP","day":5,"usage":"low"},{"year":2020,"month":"SEP","day":6,"usage":"low"},{"year":2020,"month":"SEP","day":7,"usage":"low"},{"year":2020,"month":"SEP","day":8,"usage":"low"},{"year":2020,"month":"SEP","day":9,"usage":"low"},{"year":2020,"month":"SEP","day":10,"usage":"low"},{"year":2020,"month":"SEP","day":11,"usage":"low"},{"year":2020,"month":"SEP","day":12,"usage":"low"},{"year":2020,"month":"SEP","day":13,"usage":"low"},{"year":2020,"month":"SEP","day":14,"usage":"low"},{"year":2020,"month":"SEP","day":15,"usage":"low"},{"year":2020,"month":"SEP","day":16,"usage":"low"},{"year":2020,"month":"SEP","day":17,"usage":"low"},{"year":2020,"month":"SEP","day":18,"usage":"low"},{"year":2020,"month":"SEP","day":19,"usage":"low"},{"year":2020,"month":"SEP","day":20,"usage":"low"},{"year":2020,"month":"SEP","day":21,"usage":"low"},{"year":2020,"month":"SEP","day":22,"usage":"low"},{"year":2020,"month":"SEP","day":23,"usage":"medium"},{"year":2020,"month":"SEP","day":24,"usage":"low"},{"year":2020,"month":"SEP","day":25,"usage":"low"},{"year":2020,"month":"SEP","day":26,"usage":"medium"},{"year":2020,"month":"SEP","day":27,"usage":"low"},{"year":2020,"month":"SEP","day":28,"usage":"medium"},{"year":2020,"month":"SEP","day":29,"usage":"medium"},{"year":2020,"month":"SEP","day":30,"usage":"low"},
{"year":2020,"month":"OCT","day":1,"usage":"low"},{"year":2020,"month":"OCT","day":2,"usage":"medium"},{"year":2020,"month":"OCT","day":3,"usage":"medium"},{"year":2020,"month":"OCT","day":4,"usage":"high"},{"year":2020,"month":"OCT","day":5,"usage":"medium"},{"year":2020,"month":"OCT","day":6,"usage":"medium"},{"year":2020,"month":"OCT","day":7,"usage":"medium"},{"year":2020,"month":"OCT","day":8,"usage":"low"},{"year":2020,"month":"OCT","day":9,"usage":"medium"},{"year":2020,"month":"OCT","day":10,"usage":"medium"},{"year":2020,"month":"OCT","day":11,"usage":"medium"},{"year":2020,"month":"OCT","day":12,"usage":"high"},{"year":2020,"month":"OCT","day":13,"usage":"low"},{"year":2020,"month":"OCT","day":14,"usage":"low"},{"year":2020,"month":"OCT","day":15,"usage":"medium"},{"year":2020,"month":"OCT","day":16,"usage":"low"},{"year":2020,"month":"OCT","day":17,"usage":"medium"},{"year":2020,"month":"OCT","day":18,"usage":"medium"},{"year":2020,"month":"OCT","day":19,"usage":"medium"},{"year":2020,"month":"OCT","day":20,"usage":"medium"},{"year":2020,"month":"OCT","day":21,"usage":"high"},{"year":2020,"month":"OCT","day":22,"usage":"medium"},{"year":2020,"month":"OCT","day":23,"usage":"medium"},{"year":2020,"month":"OCT","day":24,"usage":"medium"},{"year":2020,"month":"OCT","day":25,"usage":"medium"},{"year":2020,"month":"OCT","day":26,"usage":"low"},{"year":2020,"month":"OCT","day":27,"usage":"high"},{"year":2020,"month":"OCT","day":28,"usage":"medium"},{"year":2020,"month":"OCT","day":29,"usage":"medium"},{"year":2020,"month":"OCT","day":30,"usage":"high"},{"year":2020,"month":"OCT","day":31,"usage":"low"},
{"year":2020,"month":"NOV","day":1,"usage":"low"},{"year":2020,"month":"NOV","day":2,"usage":"medium"},{"year":2020,"month":"NOV","day":3,"usage":"medium"},{"year":2020,"month":"NOV","day":4,"usage":"high"},{"year":2020,"month":"NOV","day":5,"usage":"medium"},{"year":2020,"month":"NOV","day":6,"usage":"medium"},{"year":2020,"month":"NOV","day":7,"usage":"medium"},{"year":2020,"month":"NOV","day":8,"usage":"low"},{"year":2020,"month":"NOV","day":9,"usage":"medium"},{"year":2020,"month":"NOV","day":10,"usage":"medium"},{"year":2020,"month":"NOV","day":11,"usage":"medium"},{"year":2020,"month":"NOV","day":12,"usage":"high"},{"year":2020,"month":"NOV","day":13,"usage":"low"},{"year":2020,"month":"NOV","day":14,"usage":"low"},{"year":2020,"month":"NOV","day":15,"usage":"medium"},{"year":2020,"month":"NOV","day":16,"usage":"low"},{"year":2020,"month":"NOV","day":17,"usage":"medium"},{"year":2020,"month":"NOV","day":18,"usage":"medium"},{"year":2020,"month":"NOV","day":19,"usage":"medium"},{"year":2020,"month":"NOV","day":20,"usage":"medium"},{"year":2020,"month":"NOV","day":21,"usage":"high"},{"year":2020,"month":"NOV","day":22,"usage":"medium"},{"year":2020,"month":"NOV","day":23,"usage":"medium"},{"year":2020,"month":"NOV","day":24,"usage":"medium"},{"year":2020,"month":"NOV","day":25,"usage":"medium"},{"year":2020,"month":"NOV","day":26,"usage":"low"},{"year":2020,"month":"NOV","day":27,"usage":"high"},{"year":2020,"month":"NOV","day":28,"usage":"medium"},{"year":2020,"month":"NOV","day":29,"usage":"medium"},{"year":2020,"month":"NOV","day":30,"usage":"high"},
{"year":2020,"month":"DEC","day":1,"usage":"low"},{"year":2020,"month":"DEC","day":2,"usage":"high"},{"year":2020,"month":"DEC","day":3,"usage":"medium"},{"year":2020,"month":"DEC","day":4,"usage":"medium"},{"year":2020,"month":"DEC","day":5,"usage":"high"},{"year":2020,"month":"DEC","day":6,"usage":"low"},{"year":2020,"month":"DEC","day":7,"usage":"medium"},{"year":2020,"month":"DEC","day":8,"usage":"medium"},{"year":2020,"month":"DEC","day":9,"usage":"medium"},{"year":2020,"month":"DEC","day":10,"usage":"medium"},{"year":2020,"month":"DEC","day":11,"usage":"high"},{"year":2020,"month":"DEC","day":12,"usage":"medium"},{"year":2020,"month":"DEC","day":13,"usage":"medium"},{"year":2020,"month":"DEC","day":14,"usage":"medium"},{"year":2020,"month":"DEC","day":15,"usage":"medium"},{"year":2020,"month":"DEC","day":16,"usage":"low"},{"year":2020,"month":"DEC","day":17,"usage":"medium"},{"year":2020,"month":"DEC","day":18,"usage":"low"},{"year":2020,"month":"DEC","day":19,"usage":"low"},{"year":2020,"month":"DEC","day":20,"usage":"high"},{"year":2020,"month":"DEC","day":21,"usage":"medium"},{"year":2020,"month":"DEC","day":22,"usage":"medium"},{"year":2020,"month":"DEC","day":23,"usage":"medium"},{"year":2020,"month":"DEC","day":24,"usage":"low"},{"year":2020,"month":"DEC","day":25,"usage":"medium"},{"year":2020,"month":"DEC","day":26,"usage":"medium"},{"year":2020,"month":"DEC","day":27,"usage":"medium"},{"year":2020,"month":"DEC","day":28,"usage":"high"},{"year":2020,"month":"DEC","day":29,"usage":"medium"},{"year":2020,"month":"DEC","day":30,"usage":"medium"},{"year":2020,"month":"DEC","day":31,"usage":"low"},
{"year":2021,"month":"JAN","day":1,"usage":"low"},{"year":2021,"month":"JAN","day":2,"usage":"medium"},{"year":2021,"month":"JAN","day":3,"usage":"medium"},{"year":2021,"month":"JAN","day":4,"usage":"high"},{"year":2021,"month":"JAN","day":5,"usage":"medium"},{"year":2021,"month":"JAN","day":6,"usage":"medium"},{"year":2021,"month":"JAN","day":7,"usage":"medium"},{"year":2021,"month":"JAN","day":8,"usage":"low"},{"year":2021,"month":"JAN","day":9,"usage":"medium"},{"year":2021,"month":"JAN","day":10,"usage":"medium"},{"year":2021,"month":"JAN","day":11,"usage":"medium"},{"year":2021,"month":"JAN","day":12,"usage":"high"},{"year":2021,"month":"JAN","day":13,"usage":"low"},{"year":2021,"month":"JAN","day":14,"usage":"low"},{"year":2021,"month":"JAN","day":15,"usage":"medium"},{"year":2021,"month":"JAN","day":16,"usage":"low"},{"year":2021,"month":"JAN","day":17,"usage":"medium"},{"year":2021,"month":"JAN","day":18,"usage":"medium"},{"year":2021,"month":"JAN","day":19,"usage":"medium"},{"year":2021,"month":"JAN","day":20,"usage":"medium"},{"year":2021,"month":"JAN","day":21,"usage":"high"},{"year":2021,"month":"JAN","day":22,"usage":"medium"},{"year":2021,"month":"JAN","day":23,"usage":"medium"},{"year":2021,"month":"JAN","day":24,"usage":"medium"},{"year":2021,"month":"JAN","day":25,"usage":"medium"},{"year":2021,"month":"JAN","day":26,"usage":"low"},{"year":2021,"month":"JAN","day":27,"usage":"high"},{"year":2021,"month":"JAN","day":28,"usage":"medium"},{"year":2021,"month":"JAN","day":29,"usage":"medium"},{"year":2021,"month":"JAN","day":30,"usage":"high"},{"year":2021,"month":"JAN","day":31,"usage":"low"},
{"year":2021,"month":"FEB","day":1,"usage":"medium"},{"year":2021,"month":"FEB","day":2,"usage":"medium"},{"year":2021,"month":"FEB","day":3,"usage":"medium"},{"year":2021,"month":"FEB","day":4,"usage":"low"},{"year":2021,"month":"FEB","day":5,"usage":"low"},{"year":2021,"month":"FEB","day":6,"usage":"medium"},{"year":2021,"month":"FEB","day":7,"usage":"high"},{"year":2021,"month":"FEB","day":8,"usage":"low"},{"year":2021,"month":"FEB","day":9,"usage":"medium"},{"year":2021,"month":"FEB","day":10,"usage":"medium"},{"year":2021,"month":"FEB","day":11,"usage":"medium"},{"year":2021,"month":"FEB","day":12,"usage":"medium"},{"year":2021,"month":"FEB","day":13,"usage":"low"},{"year":2021,"month":"FEB","day":14,"usage":"low"},{"year":2021,"month":"FEB","day":15,"usage":"medium"},{"year":2021,"month":"FEB","day":16,"usage":"low"},{"year":2021,"month":"FEB","day":17,"usage":"medium"},{"year":2021,"month":"FEB","day":18,"usage":"medium"},{"year":2021,"month":"FEB","day":19,"usage":"medium"},{"year":2021,"month":"FEB","day":20,"usage":"low"},{"year":2021,"month":"FEB","day":21,"usage":"low"},{"year":2021,"month":"FEB","day":22,"usage":"medium"},{"year":2021,"month":"FEB","day":23,"usage":"medium"},{"year":2021,"month":"FEB","day":24,"usage":"medium"},{"year":2021,"month":"FEB","day":25,"usage":"high"},{"year":2021,"month":"FEB","day":26,"usage":"low"},{"year":2021,"month":"FEB","day":27,"usage":"low"},{"year":2021,"month":"FEB","day":28,"usage":"medium"},
{"year":2021,"month":"MAR","day":1,"usage":"low"},{"year":2021,"month":"MAR","day":2,"usage":"medium"},{"year":2021,"month":"MAR","day":3,"usage":"medium"},{"year":2021,"month":"MAR","day":4,"usage":"high"},{"year":2021,"month":"MAR","day":5,"usage":"high"},{"year":2021,"month":"MAR","day":6,"usage":"high"},{"year":2021,"month":"MAR","day":7,"usage":"high"},{"year":2021,"month":"MAR","day":8,"usage":"low"},{"year":2021,"month":"MAR","day":9,"usage":"medium"},{"year":2021,"month":"MAR","day":10,"usage":"medium"},{"year":2021,"month":"MAR","day":11,"usage":"medium"},{"year":2021,"month":"MAR","day":12,"usage":"medium"},{"year":2021,"month":"MAR","day":13,"usage":"low"},{"year":2021,"month":"MAR","day":14,"usage":"low"},{"year":2021,"month":"MAR","day":15,"usage":"medium"},{"year":2021,"month":"MAR","day":16,"usage":"low"},{"year":2021,"month":"MAR","day":17,"usage":"medium"},{"year":2021,"month":"MAR","day":18,"usage":"medium"},{"year":2021,"month":"MAR","day":19,"usage":"high"},{"year":2021,"month":"MAR","day":20,"usage":"medium"},{"year":2021,"month":"MAR","day":21,"usage":"high"},{"year":2021,"month":"MAR","day":22,"usage":"medium"},{"year":2021,"month":"MAR","day":23,"usage":"high"},{"year":2021,"month":"MAR","day":24,"usage":"medium"},{"year":2021,"month":"MAR","day":25,"usage":"medium"},{"year":2021,"month":"MAR","day":26,"usage":"low"},{"year":2021,"month":"MAR","day":27,"usage":"high"},{"year":2021,"month":"MAR","day":28,"usage":"medium"},{"year":2021,"month":"MAR","day":29,"usage":"medium"},{"year":2021,"month":"MAR","day":30,"usage":"medium"},{"year":2021,"month":"MAR","day":31,"usage":"low"},
{"year":2021,"month":"APR","day":1,"usage":"medium"},{"year":2021,"month":"APR","day":2,"usage":"high"},{"year":2021,"month":"APR","day":3,"usage":"medium"},{"year":2021,"month":"APR","day":4,"usage":"medium"},{"year":2021,"month":"APR","day":5,"usage":"medium"},{"year":2021,"month":"APR","day":6,"usage":"medium"},{"year":2021,"month":"APR","day":7,"usage":"medium"},{"year":2021,"month":"APR","day":8,"usage":"low"},{"year":2021,"month":"APR","day":9,"usage":"low"},{"year":2021,"month":"APR","day":10,"usage":"low"},{"year":2021,"month":"APR","day":11,"usage":"medium"},{"year":2021,"month":"APR","day":12,"usage":"high"},{"year":2021,"month":"APR","day":13,"usage":"low"},{"year":2021,"month":"APR","day":14,"usage":"low"},{"year":2021,"month":"APR","day":15,"usage":"high"},{"year":2021,"month":"APR","day":16,"usage":"low"},{"year":2021,"month":"APR","day":17,"usage":"medium"},{"year":2021,"month":"APR","day":18,"usage":"high"},{"year":2021,"month":"APR","day":19,"usage":"low"},{"year":2021,"month":"APR","day":20,"usage":"medium"},{"year":2021,"month":"APR","day":21,"usage":"low"},{"year":2021,"month":"APR","day":22,"usage":"medium"},{"year":2021,"month":"APR","day":23,"usage":"high"},{"year":2021,"month":"APR","day":24,"usage":"medium"},{"year":2021,"month":"APR","day":25,"usage":"medium"},{"year":2021,"month":"APR","day":26,"usage":"low"},{"year":2021,"month":"APR","day":27,"usage":"medium"},{"year":2021,"month":"APR","day":28,"usage":"medium"},{"year":2021,"month":"APR","day":29,"usage":"medium"},{"year":2021,"month":"APR","day":30,"usage":"high"},
{"year":2021,"month":"MAY","day":1,"usage":"low"},{"year":2021,"month":"MAY","day":2,"usage":"medium"},{"year":2021,"month":"MAY","day":3,"usage":"medium"},{"year":2021,"month":"MAY","day":4,"usage":"high"},{"year":2021,"month":"MAY","day":5,"usage":"medium"},{"year":2021,"month":"MAY","day":6,"usage":"medium"},{"year":2021,"month":"MAY","day":7,"usage":"medium"},{"year":2021,"month":"MAY","day":8,"usage":"low"},{"year":2021,"month":"MAY","day":9,"usage":"medium"},{"year":2021,"month":"MAY","day":10,"usage":"medium"},{"year":2021,"month":"MAY","day":11,"usage":"medium"},{"year":2021,"month":"MAY","day":12,"usage":"high"},{"year":2021,"month":"MAY","day":13,"usage":"low"},{"year":2021,"month":"MAY","day":14,"usage":"low"},{"year":2021,"month":"MAY","day":15,"usage":"medium"},{"year":2021,"month":"MAY","day":16,"usage":"low"},{"year":2021,"month":"MAY","day":17,"usage":"medium"},{"year":2021,"month":"MAY","day":18,"usage":"medium"},{"year":2021,"month":"MAY","day":19,"usage":"medium"},{"year":2021,"month":"MAY","day":20,"usage":"medium"},{"year":2021,"month":"MAY","day":21,"usage":"high"},{"year":2021,"month":"MAY","day":22,"usage":"medium"},{"year":2021,"month":"MAY","day":23,"usage":"medium"},{"year":2021,"month":"MAY","day":24,"usage":"medium"},{"year":2021,"month":"MAY","day":25,"usage":"medium"},{"year":2021,"month":"MAY","day":26,"usage":"low"},{"year":2021,"month":"MAY","day":27,"usage":"high"},{"year":2021,"month":"MAY","day":28,"usage":"medium"},{"year":2021,"month":"MAY","day":29,"usage":"medium"},{"year":2021,"month":"MAY","day":30,"usage":"high"},{"year":2021,"month":"MAY","day":31,"usage":"low"},
{"year":2021,"month":"JUN","day":1,"usage":"medium"},{"year":2021,"month":"JUN","day":2,"usage":"high"},{"year":2021,"month":"JUN","day":3,"usage":"medium"},{"year":2021,"month":"JUN","day":4,"usage":"medium"},{"year":2021,"month":"JUN","day":5,"usage":"medium"},{"year":2021,"month":"JUN","day":6,"usage":"medium"},{"year":2021,"month":"JUN","day":7,"usage":"medium"},{"year":2021,"month":"JUN","day":8,"usage":"low"},{"year":2021,"month":"JUN","day":9,"usage":"low"},{"year":2021,"month":"JUN","day":10,"usage":"low"},{"year":2021,"month":"JUN","day":11,"usage":"medium"},{"year":2021,"month":"JUN","day":12,"usage":"high"},{"year":2021,"month":"JUN","day":13,"usage":"low"},{"year":2021,"month":"JUN","day":14,"usage":"low"},{"year":2021,"month":"JUN","day":15,"usage":"high"},{"year":2021,"month":"JUN","day":16,"usage":"low"},{"year":2021,"month":"JUN","day":17,"usage":"medium"},{"year":2021,"month":"JUN","day":18,"usage":"high"},{"year":2021,"month":"JUN","day":19,"usage":"low"},{"year":2021,"month":"JUN","day":20,"usage":"medium"},{"year":2021,"month":"JUN","day":21,"usage":"low"},{"year":2021,"month":"JUN","day":22,"usage":"medium"},{"year":2021,"month":"JUN","day":23,"usage":"high"},{"year":2021,"month":"JUN","day":24,"usage":"medium"},{"year":2021,"month":"JUN","day":25,"usage":"medium"},{"year":2021,"month":"JUN","day":26,"usage":"low"},{"year":2021,"month":"JUN","day":27,"usage":"medium"},{"year":2021,"month":"JUN","day":28,"usage":"medium"},{"year":2021,"month":"JUN","day":29,"usage":"medium"},{"year":2021,"month":"JUN","day":30,"usage":"high"},
{"year":2021,"month":"JUL","day":1,"usage":"low"},{"year":2021,"month":"JUL","day":2,"usage":"low"},{"year":2021,"month":"JUL","day":3,"usage":"medium"},{"year":2021,"month":"JUL","day":4,"usage":"low"},{"year":2021,"month":"JUL","day":5,"usage":"low"},{"year":2021,"month":"JUL","day":6,"usage":"low"},{"year":2021,"month":"JUL","day":7,"usage":"low"},{"year":2021,"month":"JUL","day":8,"usage":"low"},{"year":2021,"month":"JUL","day":9,"usage":"low"},{"year":2021,"month":"JUL","day":10,"usage":"low"},{"year":2021,"month":"JUL","day":11,"usage":"medium"},{"year":2021,"month":"JUL","day":12,"usage":"low"},{"year":2021,"month":"JUL","day":13,"usage":"low"},{"year":2021,"month":"JUL","day":14,"usage":"low"},{"year":2021,"month":"JUL","day":15,"usage":"medium"},{"year":2021,"month":"JUL","day":16,"usage":"low"},{"year":2021,"month":"JUL","day":17,"usage":"low"},{"year":2021,"month":"JUL","day":18,"usage":"low"},{"year":2021,"month":"JUL","day":19,"usage":"low"},{"year":2021,"month":"JUL","day":20,"usage":"low"},{"year":2021,"month":"JUL","day":21,"usage":"medium"},{"year":2021,"month":"JUL","day":22,"usage":"low"},{"year":2021,"month":"JUL","day":23,"usage":"low"},{"year":2021,"month":"JUL","day":24,"usage":"low"},{"year":2021,"month":"JUL","day":25,"usage":"low"},{"year":2021,"month":"JUL","day":26,"usage":"high"},{"year":2021,"month":"JUL","day":27,"usage":"low"},{"year":2021,"month":"JUL","day":28,"usage":"low"},{"year":2021,"month":"JUL","day":29,"usage":"low"},{"year":2021,"month":"JUL","day":30,"usage":"low"},{"year":2021,"month":"JUL","day":31,"usage":"medium"},
{"year":2021,"month":"AUG","day":1,"usage":"low"},{"year":2021,"month":"AUG","day":2,"usage":"low"},{"year":2021,"month":"AUG","day":3,"usage":"low"},{"year":2021,"month":"AUG","day":4,"usage":"medium"},{"year":2021,"month":"AUG","day":5,"usage":"low"},{"year":2021,"month":"AUG","day":6,"usage":"low"},{"year":2021,"month":"AUG","day":7,"usage":"low"},{"year":2021,"month":"AUG","day":8,"usage":"low"},{"year":2021,"month":"AUG","day":9,"usage":"low"},{"year":2021,"month":"AUG","day":10,"usage":"low"},{"year":2021,"month":"AUG","day":11,"usage":"medium"},{"year":2021,"month":"AUG","day":12,"usage":"low"},{"year":2021,"month":"AUG","day":13,"usage":"low"},{"year":2021,"month":"AUG","day":14,"usage":"low"},{"year":2021,"month":"AUG","day":15,"usage":"low"},{"year":2021,"month":"AUG","day":16,"usage":"low"},{"year":2021,"month":"AUG","day":17,"usage":"low"},{"year":2021,"month":"AUG","day":18,"usage":"low"},{"year":2021,"month":"AUG","day":19,"usage":"low"},{"year":2021,"month":"AUG","day":20,"usage":"low"},{"year":2021,"month":"AUG","day":21,"usage":"low"},{"year":2021,"month":"AUG","day":22,"usage":"low"},{"year":2021,"month":"AUG","day":23,"usage":"low"},{"year":2021,"month":"AUG","day":24,"usage":"low"},{"year":2021,"month":"AUG","day":25,"usage":"medium"},{"year":2021,"month":"AUG","day":26,"usage":"low"},{"year":2021,"month":"AUG","day":27,"usage":"low"},{"year":2021,"month":"AUG","day":28,"usage":"low"},{"year":2021,"month":"AUG","day":29,"usage":"low"},{"year":2021,"month":"AUG","day":30,"usage":"low"},{"year":2021,"month":"AUG","day":31,"usage":"low"},
{"year":2021,"month":"SEP","day":1,"usage":"low"},{"year":2021,"month":"SEP","day":2,"usage":"low"},{"year":2021,"month":"SEP","day":3,"usage":"low"},{"year":2021,"month":"SEP","day":4,"usage":"low"},{"year":2021,"month":"SEP","day":5,"usage":"low"},{"year":2021,"month":"SEP","day":6,"usage":"low"},{"year":2021,"month":"SEP","day":7,"usage":"low"},{"year":2021,"month":"SEP","day":8,"usage":"low"},{"year":2021,"month":"SEP","day":9,"usage":"low"},{"year":2021,"month":"SEP","day":10,"usage":"low"},{"year":2021,"month":"SEP","day":11,"usage":"low"},{"year":2021,"month":"SEP","day":12,"usage":"low"},{"year":2021,"month":"SEP","day":13,"usage":"low"},{"year":2021,"month":"SEP","day":14,"usage":"low"},{"year":2021,"month":"SEP","day":15,"usage":"low"},{"year":2021,"month":"SEP","day":16,"usage":"low"},{"year":2021,"month":"SEP","day":17,"usage":"low"},{"year":2021,"month":"SEP","day":18,"usage":"low"},{"year":2021,"month":"SEP","day":19,"usage":"medium"},{"year":2021,"month":"SEP","day":20,"usage":"low"},{"year":2021,"month":"SEP","day":21,"usage":"low"},{"year":2021,"month":"SEP","day":22,"usage":"medium"},{"year":2021,"month":"SEP","day":23,"usage":"low"},{"year":2021,"month":"SEP","day":24,"usage":"low"},{"year":2021,"month":"SEP","day":25,"usage":"medium"},{"year":2021,"month":"SEP","day":26,"usage":"low"},{"year":2021,"month":"SEP","day":27,"usage":"low"},{"year":2021,"month":"SEP","day":28,"usage":"medium"},{"year":2021,"month":"SEP","day":29,"usage":"low"},{"year":2021,"month":"SEP","day":30,"usage":"low"},
{"year":2021,"month":"OCT","day":1,"usage":"low"},{"year":2021,"month":"OCT","day":2,"usage":"medium"},{"year":2021,"month":"OCT","day":3,"usage":"medium"},{"year":2021,"month":"OCT","day":4,"usage":"high"},{"year":2021,"month":"OCT","day":5,"usage":"medium"},{"year":2021,"month":"OCT","day":6,"usage":"medium"},{"year":2021,"month":"OCT","day":7,"usage":"medium"},{"year":2021,"month":"OCT","day":8,"usage":"low"},{"year":2021,"month":"OCT","day":9,"usage":"medium"},{"year":2021,"month":"OCT","day":10,"usage":"medium"},{"year":2021,"month":"OCT","day":11,"usage":"medium"},{"year":2021,"month":"OCT","day":12,"usage":"high"},{"year":2021,"month":"OCT","day":13,"usage":"low"},{"year":2021,"month":"OCT","day":14,"usage":"low"},{"year":2021,"month":"OCT","day":15,"usage":"medium"},{"year":2021,"month":"OCT","day":16,"usage":"low"},{"year":2021,"month":"OCT","day":17,"usage":"medium"},{"year":2021,"month":"OCT","day":18,"usage":"medium"},{"year":2021,"month":"OCT","day":19,"usage":"medium"},{"year":2021,"month":"OCT","day":20,"usage":"medium"},{"year":2021,"month":"OCT","day":21,"usage":"high"},{"year":2021,"month":"OCT","day":22,"usage":"medium"},{"year":2021,"month":"OCT","day":23,"usage":"medium"},{"year":2021,"month":"OCT","day":24,"usage":"medium"},{"year":2021,"month":"OCT","day":25,"usage":"medium"},{"year":2021,"month":"OCT","day":26,"usage":"low"},{"year":2021,"month":"OCT","day":27,"usage":"high"},{"year":2021,"month":"OCT","day":28,"usage":"medium"},{"year":2021,"month":"OCT","day":29,"usage":"medium"},{"year":2021,"month":"OCT","day":30,"usage":"high"},{"year":2021,"month":"OCT","day":31,"usage":"low"},
{"year":2021,"month":"NOV","day":1,"usage":"medium"},{"year":2021,"month":"NOV","day":2,"usage":"high"},{"year":2021,"month":"NOV","day":3,"usage":"medium"},{"year":2021,"month":"NOV","day":4,"usage":"medium"},{"year":2021,"month":"NOV","day":5,"usage":"medium"},{"year":2021,"month":"NOV","day":6,"usage":"medium"},{"year":2021,"month":"NOV","day":7,"usage":"medium"},{"year":2021,"month":"NOV","day":8,"usage":"low"},{"year":2021,"month":"NOV","day":9,"usage":"low"},{"year":2021,"month":"NOV","day":10,"usage":"low"},{"year":2021,"month":"NOV","day":11,"usage":"medium"},{"year":2021,"month":"NOV","day":12,"usage":"high"},{"year":2021,"month":"NOV","day":13,"usage":"low"},{"year":2021,"month":"NOV","day":14,"usage":"low"},{"year":2021,"month":"NOV","day":15,"usage":"high"},{"year":2021,"month":"NOV","day":16,"usage":"low"},{"year":2021,"month":"NOV","day":17,"usage":"medium"},{"year":2021,"month":"NOV","day":18,"usage":"high"},{"year":2021,"month":"NOV","day":19,"usage":"low"},{"year":2021,"month":"NOV","day":20,"usage":"medium"},{"year":2021,"month":"NOV","day":21,"usage":"low"},{"year":2021,"month":"NOV","day":22,"usage":"medium"},{"year":2021,"month":"NOV","day":23,"usage":"high"},{"year":2021,"month":"NOV","day":24,"usage":"medium"},{"year":2021,"month":"NOV","day":25,"usage":"medium"},{"year":2021,"month":"NOV","day":26,"usage":"low"},{"year":2021,"month":"NOV","day":27,"usage":"medium"},{"year":2021,"month":"NOV","day":28,"usage":"medium"},{"year":2021,"month":"NOV","day":29,"usage":"medium"},{"year":2021,"month":"NOV","day":30,"usage":"high"},
{"year":2021,"month":"DEC","day":1,"usage":"low"},{"year":2021,"month":"DEC","day":2,"usage":"medium"},{"year":2021,"month":"DEC","day":3,"usage":"medium"},{"year":2021,"month":"DEC","day":4,"usage":"high"},{"year":2021,"month":"DEC","day":5,"usage":"medium"},{"year":2021,"month":"DEC","day":6,"usage":"medium"},{"year":2021,"month":"DEC","day":7,"usage":"medium"},{"year":2021,"month":"DEC","day":8,"usage":"low"},{"year":2021,"month":"DEC","day":9,"usage":"medium"},{"year":2021,"month":"DEC","day":10,"usage":"medium"},{"year":2021,"month":"DEC","day":11,"usage":"medium"},{"year":2021,"month":"DEC","day":12,"usage":"high"},{"year":2021,"month":"DEC","day":13,"usage":"low"},{"year":2021,"month":"DEC","day":14,"usage":"low"},{"year":2021,"month":"DEC","day":15,"usage":"medium"},{"year":2021,"month":"DEC","day":16,"usage":"low"},{"year":2021,"month":"DEC","day":17,"usage":"medium"},{"year":2021,"month":"DEC","day":18,"usage":"medium"},{"year":2021,"month":"DEC","day":19,"usage":"medium"},{"year":2021,"month":"DEC","day":20,"usage":"medium"},{"year":2021,"month":"DEC","day":21,"usage":"high"},{"year":2021,"month":"DEC","day":22,"usage":"medium"},{"year":2021,"month":"DEC","day":23,"usage":"medium"},{"year":2021,"month":"DEC","day":24,"usage":"medium"},{"year":2021,"month":"DEC","day":25,"usage":"medium"},{"year":2021,"month":"DEC","day":26,"usage":"low"},{"year":2021,"month":"DEC","day":27,"usage":"high"},{"year":2021,"month":"DEC","day":28,"usage":"medium"},{"year":2021,"month":"DEC","day":29,"usage":"medium"},{"year":2021,"month":"DEC","day":30,"usage":"high"},{"year":2021,"month":"DEC","day":31,"usage":"low"},
{"year":2022,"month":"JAN","day":1,"usage":"low"},{"year":2022,"month":"JAN","day":2,"usage":"medium"},{"year":2022,"month":"JAN","day":3,"usage":"medium"},{"year":2022,"month":"JAN","day":4,"usage":"high"},{"year":2022,"month":"JAN","day":5,"usage":"medium"},{"year":2022,"month":"JAN","day":6,"usage":"medium"},{"year":2022,"month":"JAN","day":7,"usage":"medium"},{"year":2022,"month":"JAN","day":8,"usage":"low"},{"year":2022,"month":"JAN","day":9,"usage":"medium"},{"year":2022,"month":"JAN","day":10,"usage":"medium"},{"year":2022,"month":"JAN","day":11,"usage":"medium"},{"year":2022,"month":"JAN","day":12,"usage":"high"},{"year":2022,"month":"JAN","day":13,"usage":"low"},{"year":2022,"month":"JAN","day":14,"usage":"low"},{"year":2022,"month":"JAN","day":15,"usage":"medium"},{"year":2022,"month":"JAN","day":16,"usage":"low"},{"year":2022,"month":"JAN","day":17,"usage":"medium"},{"year":2022,"month":"JAN","day":18,"usage":"medium"},{"year":2022,"month":"JAN","day":19,"usage":"medium"},{"year":2022,"month":"JAN","day":20,"usage":"medium"},{"year":2022,"month":"JAN","day":21,"usage":"high"},{"year":2022,"month":"JAN","day":22,"usage":"medium"},{"year":2022,"month":"JAN","day":23,"usage":"medium"},{"year":2022,"month":"JAN","day":24,"usage":"medium"},{"year":2022,"month":"JAN","day":25,"usage":"medium"},{"year":2022,"month":"JAN","day":26,"usage":"low"},{"year":2022,"month":"JAN","day":27,"usage":"high"},{"year":2022,"month":"JAN","day":28,"usage":"medium"},{"year":2022,"month":"JAN","day":29,"usage":"medium"},{"year":2022,"month":"JAN","day":30,"usage":"high"},{"year":2022,"month":"JAN","day":31,"usage":"low"},
{"year":2022,"month":"FEB","day":1,"usage":"medium"},{"year":2022,"month":"FEB","day":2,"usage":"medium"},{"year":2022,"month":"FEB","day":3,"usage":"medium"},{"year":2022,"month":"FEB","day":4,"usage":"low"},{"year":2022,"month":"FEB","day":5,"usage":"low"},{"year":2022,"month":"FEB","day":6,"usage":"medium"},{"year":2022,"month":"FEB","day":7,"usage":"high"},{"year":2022,"month":"FEB","day":8,"usage":"low"},{"year":2022,"month":"FEB","day":9,"usage":"medium"},{"year":2022,"month":"FEB","day":10,"usage":"medium"},{"year":2022,"month":"FEB","day":11,"usage":"medium"},{"year":2022,"month":"FEB","day":12,"usage":"medium"},{"year":2022,"month":"FEB","day":13,"usage":"low"},{"year":2022,"month":"FEB","day":14,"usage":"low"},{"year":2022,"month":"FEB","day":15,"usage":"medium"},{"year":2022,"month":"FEB","day":16,"usage":"low"},{"year":2022,"month":"FEB","day":17,"usage":"medium"},{"year":2022,"month":"FEB","day":18,"usage":"medium"},{"year":2022,"month":"FEB","day":19,"usage":"medium"},{"year":2022,"month":"FEB","day":20,"usage":"low"},{"year":2022,"month":"FEB","day":21,"usage":"low"},{"year":2022,"month":"FEB","day":22,"usage":"medium"},{"year":2022,"month":"FEB","day":23,"usage":"medium"},{"year":2022,"month":"FEB","day":24,"usage":"medium"},{"year":2022,"month":"FEB","day":25,"usage":"high"},{"year":2022,"month":"FEB","day":26,"usage":"low"},{"year":2022,"month":"FEB","day":27,"usage":"low"},{"year":2022,"month":"FEB","day":28,"usage":"medium"},
{"year":2022,"month":"MAR","day":1,"usage":"low"},{"year":2022,"month":"MAR","day":2,"usage":"medium"},{"year":2022,"month":"MAR","day":3,"usage":"medium"},{"year":2022,"month":"MAR","day":4,"usage":"medium"},{"year":2022,"month":"MAR","day":5,"usage":"medium"},{"year":2022,"month":"MAR","day":6,"usage":"medium"},{"year":2022,"month":"MAR","day":7,"usage":"medium"},{"year":2022,"month":"MAR","day":8,"usage":"low"},{"year":2022,"month":"MAR","day":9,"usage":"medium"},{"year":2022,"month":"MAR","day":10,"usage":"medium"},{"year":2022,"month":"MAR","day":11,"usage":"medium"},{"year":2022,"month":"MAR","day":12,"usage":"medium"},{"year":2022,"month":"MAR","day":13,"usage":"low"},{"year":2022,"month":"MAR","day":14,"usage":"low"},{"year":2022,"month":"MAR","day":15,"usage":"medium"},{"year":2022,"month":"MAR","day":16,"usage":"low"},{"year":2022,"month":"MAR","day":17,"usage":"medium"},{"year":2022,"month":"MAR","day":18,"usage":"medium"},{"year":2022,"month":"MAR","day":19,"usage":"medium"},{"year":2022,"month":"MAR","day":20,"usage":"medium"},{"year":2022,"month":"MAR","day":21,"usage":"high"},{"year":2022,"month":"MAR","day":22,"usage":"medium"},{"year":2022,"month":"MAR","day":23,"usage":"medium"},{"year":2022,"month":"MAR","day":24,"usage":"medium"},{"year":2022,"month":"MAR","day":25,"usage":"medium"},{"year":2022,"month":"MAR","day":26,"usage":"low"},{"year":2022,"month":"MAR","day":27,"usage":"medium"},{"year":2022,"month":"MAR","day":28,"usage":"medium"},{"year":2022,"month":"MAR","day":29,"usage":"medium"},{"year":2022,"month":"MAR","day":30,"usage":"medium"},{"year":2022,"month":"MAR","day":31,"usage":"low"},
{"year":2022,"month":"APR","day":1,"usage":"low"},{"year":2022,"month":"APR","day":2,"usage":"medium"},{"year":2022,"month":"APR","day":3,"usage":"medium"},{"year":2022,"month":"APR","day":4,"usage":"high"},{"year":2022,"month":"APR","day":5,"usage":"high"},{"year":2022,"month":"APR","day":6,"usage":"high"},{"year":2022,"month":"APR","day":7,"usage":"high"},{"year":2022,"month":"APR","day":8,"usage":"low"},{"year":2022,"month":"APR","day":9,"usage":"medium"},{"year":2022,"month":"APR","day":10,"usage":"medium"},{"year":2022,"month":"APR","day":11,"usage":"medium"},{"year":2022,"month":"APR","day":12,"usage":"medium"},{"year":2022,"month":"APR","day":13,"usage":"low"},{"year":2022,"month":"APR","day":14,"usage":"low"},{"year":2022,"month":"APR","day":15,"usage":"medium"},{"year":2022,"month":"APR","day":16,"usage":"low"},{"year":2022,"month":"APR","day":17,"usage":"medium"},{"year":2022,"month":"APR","day":18,"usage":"medium"},{"year":2022,"month":"APR","day":19,"usage":"high"},{"year":2022,"month":"APR","day":20,"usage":"medium"},{"year":2022,"month":"APR","day":21,"usage":"high"},{"year":2022,"month":"APR","day":22,"usage":"medium"},{"year":2022,"month":"APR","day":23,"usage":"high"},{"year":2022,"month":"APR","day":24,"usage":"medium"},{"year":2022,"month":"APR","day":25,"usage":"medium"},{"year":2022,"month":"APR","day":26,"usage":"low"},{"year":2022,"month":"APR","day":27,"usage":"high"},{"year":2022,"month":"APR","day":28,"usage":"medium"},{"year":2022,"month":"APR","day":29,"usage":"medium"},{"year":2022,"month":"APR","day":30,"usage":"medium"},
{"year":2022,"month":"MAY","day":1,"usage":"low"},{"year":2022,"month":"MAY","day":2,"usage":"high"},{"year":2022,"month":"MAY","day":3,"usage":"medium"},{"year":2022,"month":"MAY","day":4,"usage":"medium"},{"year":2022,"month":"MAY","day":5,"usage":"high"},{"year":2022,"month":"MAY","day":6,"usage":"low"},{"year":2022,"month":"MAY","day":7,"usage":"medium"},{"year":2022,"month":"MAY","day":8,"usage":"medium"},{"year":2022,"month":"MAY","day":9,"usage":"medium"},{"year":2022,"month":"MAY","day":10,"usage":"medium"},{"year":2022,"month":"MAY","day":11,"usage":"high"},{"year":2022,"month":"MAY","day":12,"usage":"medium"},{"year":2022,"month":"MAY","day":13,"usage":"medium"},{"year":2022,"month":"MAY","day":14,"usage":"medium"},{"year":2022,"month":"MAY","day":15,"usage":"medium"},{"year":2022,"month":"MAY","day":16,"usage":"low"},{"year":2022,"month":"MAY","day":17,"usage":"medium"},{"year":2022,"month":"MAY","day":18,"usage":"low"},{"year":2022,"month":"MAY","day":19,"usage":"low"},{"year":2022,"month":"MAY","day":20,"usage":"high"},{"year":2022,"month":"MAY","day":21,"usage":"medium"},{"year":2022,"month":"MAY","day":22,"usage":"medium"},{"year":2022,"month":"MAY","day":23,"usage":"medium"},{"year":2022,"month":"MAY","day":24,"usage":"low"},{"year":2022,"month":"MAY","day":25,"usage":"medium"},{"year":2022,"month":"MAY","day":26,"usage":"medium"},{"year":2022,"month":"MAY","day":27,"usage":"medium"},{"year":2022,"month":"MAY","day":28,"usage":"high"},{"year":2022,"month":"MAY","day":29,"usage":"medium"},{"year":2022,"month":"MAY","day":30,"usage":"medium"},{"year":2022,"month":"MAY","day":31,"usage":"low"},
{"year":2022,"month":"JUN","day":1,"usage":"low"},{"year":2022,"month":"JUN","day":2,"usage":"medium"},{"year":2022,"month":"JUN","day":3,"usage":"medium"},{"year":2022,"month":"JUN","day":4,"usage":"high"},{"year":2022,"month":"JUN","day":5,"usage":"high"},{"year":2022,"month":"JUN","day":6,"usage":"high"},{"year":2022,"month":"JUN","day":7,"usage":"high"},{"year":2022,"month":"JUN","day":8,"usage":"low"},{"year":2022,"month":"JUN","day":9,"usage":"medium"},{"year":2022,"month":"JUN","day":10,"usage":"medium"},{"year":2022,"month":"JUN","day":11,"usage":"medium"},{"year":2022,"month":"JUN","day":12,"usage":"medium"},{"year":2022,"month":"JUN","day":13,"usage":"low"},{"year":2022,"month":"JUN","day":14,"usage":"low"},{"year":2022,"month":"JUN","day":15,"usage":"medium"},{"year":2022,"month":"JUN","day":16,"usage":"low"},{"year":2022,"month":"JUN","day":17,"usage":"medium"},{"year":2022,"month":"JUN","day":18,"usage":"medium"},{"year":2022,"month":"JUN","day":19,"usage":"high"},{"year":2022,"month":"JUN","day":20,"usage":"medium"},{"year":2022,"month":"JUN","day":21,"usage":"high"},{"year":2022,"month":"JUN","day":22,"usage":"medium"},{"year":2022,"month":"JUN","day":23,"usage":"high"},{"year":2022,"month":"JUN","day":24,"usage":"medium"},{"year":2022,"month":"JUN","day":25,"usage":"medium"},{"year":2022,"month":"JUN","day":26,"usage":"low"},{"year":2022,"month":"JUN","day":27,"usage":"high"},{"year":2022,"month":"JUN","day":28,"usage":"medium"},{"year":2022,"month":"JUN","day":29,"usage":"medium"},{"year":2022,"month":"JUN","day":30,"usage":"medium"},
{"year":2022,"month":"JUL","day":1,"usage":"low"},{"year":2022,"month":"JUL","day":2,"usage":"low"},{"year":2022,"month":"JUL","day":3,"usage":"low"},{"year":2022,"month":"JUL","day":4,"usage":"low"},{"year":2022,"month":"JUL","day":5,"usage":"low"},{"year":2022,"month":"JUL","day":6,"usage":"medium"},{"year":2022,"month":"JUL","day":7,"usage":"low"},{"year":2022,"month":"JUL","day":8,"usage":"low"},{"year":2022,"month":"JUL","day":9,"usage":"high"},{"year":2022,"month":"JUL","day":10,"usage":"low"},{"year":2022,"month":"JUL","day":11,"usage":"low"},{"year":2022,"month":"JUL","day":12,"usage":"low"},{"year":2022,"month":"JUL","day":13,"usage":"low"},{"year":2022,"month":"JUL","day":14,"usage":"high"},{"year":2022,"month":"JUL","day":15,"usage":"low"},{"year":2022,"month":"JUL","day":16,"usage":"low"},{"year":2022,"month":"JUL","day":17,"usage":"low"},{"year":2022,"month":"JUL","day":18,"usage":"low"},{"year":2022,"month":"JUL","day":19,"usage":"low"},{"year":2022,"month":"JUL","day":20,"usage":"low"},{"year":2022,"month":"JUL","day":21,"usage":"low"},{"year":2022,"month":"JUL","day":22,"usage":"low"},{"year":2022,"month":"JUL","day":23,"usage":"low"},{"year":2022,"month":"JUL","day":24,"usage":"low"},{"year":2022,"month":"JUL","day":25,"usage":"low"},{"year":2022,"month":"JUL","day":26,"usage":"low"},{"year":2022,"month":"JUL","day":27,"usage":"low"},{"year":2022,"month":"JUL","day":28,"usage":"low"},{"year":2022,"month":"JUL","day":29,"usage":"low"},{"year":2022,"month":"JUL","day":30,"usage":"low"},{"year":2022,"month":"JUL","day":31,"usage":"low"},
{"year":2022,"month":"AUG","day":1,"usage":"medium"},{"year":2022,"month":"AUG","day":2,"usage":"low"},{"year":2022,"month":"AUG","day":3,"usage":"low"},{"year":2022,"month":"AUG","day":4,"usage":"low"},{"year":2022,"month":"AUG","day":5,"usage":"low"},{"year":2022,"month":"AUG","day":6,"usage":"low"},{"year":2022,"month":"AUG","day":7,"usage":"low"},{"year":2022,"month":"AUG","day":8,"usage":"low"},{"year":2022,"month":"AUG","day":9,"usage":"medium"},{"year":2022,"month":"AUG","day":10,"usage":"low"},{"year":2022,"month":"AUG","day":11,"usage":"low"},{"year":2022,"month":"AUG","day":12,"usage":"low"},{"year":2022,"month":"AUG","day":13,"usage":"low"},{"year":2022,"month":"AUG","day":14,"usage":"low"},{"year":2022,"month":"AUG","day":15,"usage":"low"},{"year":2022,"month":"AUG","day":16,"usage":"low"},{"year":2022,"month":"AUG","day":17,"usage":"low"},{"year":2022,"month":"AUG","day":18,"usage":"low"},{"year":2022,"month":"AUG","day":19,"usage":"low"},{"year":2022,"month":"AUG","day":20,"usage":"medium"},{"year":2022,"month":"AUG","day":21,"usage":"low"},{"year":2022,"month":"AUG","day":22,"usage":"low"},{"year":2022,"month":"AUG","day":23,"usage":"low"},{"year":2022,"month":"AUG","day":24,"usage":"low"},{"year":2022,"month":"AUG","day":25,"usage":"low"},{"year":2022,"month":"AUG","day":26,"usage":"low"},{"year":2022,"month":"AUG","day":27,"usage":"low"},{"year":2022,"month":"AUG","day":28,"usage":"low"},{"year":2022,"month":"AUG","day":29,"usage":"low"},{"year":2022,"month":"AUG","day":30,"usage":"low"},{"year":2022,"month":"AUG","day":31,"usage":"low"},
{"year":2022,"month":"SEP","day":1,"usage":"low"},{"year":2022,"month":"SEP","day":2,"usage":"low"},{"year":2022,"month":"SEP","day":3,"usage":"low"},{"year":2022,"month":"SEP","day":4,"usage":"low"},{"year":2022,"month":"SEP","day":5,"usage":"low"},{"year":2022,"month":"SEP","day":6,"usage":"low"},{"year":2022,"month":"SEP","day":7,"usage":"low"},{"year":2022,"month":"SEP","day":8,"usage":"low"},{"year":2022,"month":"SEP","day":9,"usage":"low"},{"year":2022,"month":"SEP","day":10,"usage":"low"},{"year":2022,"month":"SEP","day":11,"usage":"low"},{"year":2022,"month":"SEP","day":12,"usage":"low"},{"year":2022,"month":"SEP","day":13,"usage":"low"},{"year":2022,"month":"SEP","day":14,"usage":"low"},{"year":2022,"month":"SEP","day":15,"usage":"low"},{"year":2022,"month":"SEP","day":16,"usage":"low"},{"year":2022,"month":"SEP","day":17,"usage":"medium"},{"year":2022,"month":"SEP","day":18,"usage":"low"},{"year":2022,"month":"SEP","day":19,"usage":"low"},{"year":2022,"month":"SEP","day":20,"usage":"low"},{"year":2022,"month":"SEP","day":21,"usage":"low"},{"year":2022,"month":"SEP","day":22,"usage":"medium"},{"year":2022,"month":"SEP","day":23,"usage":"low"},{"year":2022,"month":"SEP","day":24,"usage":"low"},{"year":2022,"month":"SEP","day":25,"usage":"medium"},{"year":2022,"month":"SEP","day":26,"usage":"medium"},{"year":2022,"month":"SEP","day":27,"usage":"low"},{"year":2022,"month":"SEP","day":28,"usage":"medium"},{"year":2022,"month":"SEP","day":29,"usage":"low"},{"year":2022,"month":"SEP","day":30,"usage":"low"},
{"year":2022,"month":"OCT","day":1,"usage":"low"},{"year":2022,"month":"OCT","day":2,"usage":"medium"},{"year":2022,"month":"OCT","day":3,"usage":"medium"},{"year":2022,"month":"OCT","day":4,"usage":"high"},{"year":2022,"month":"OCT","day":5,"usage":"medium"},{"year":2022,"month":"OCT","day":6,"usage":"medium"},{"year":2022,"month":"OCT","day":7,"usage":"medium"},{"year":2022,"month":"OCT","day":8,"usage":"low"},{"year":2022,"month":"OCT","day":9,"usage":"medium"},{"year":2022,"month":"OCT","day":10,"usage":"medium"},{"year":2022,"month":"OCT","day":11,"usage":"medium"},{"year":2022,"month":"OCT","day":12,"usage":"high"},{"year":2022,"month":"OCT","day":13,"usage":"low"},{"year":2022,"month":"OCT","day":14,"usage":"low"},{"year":2022,"month":"OCT","day":15,"usage":"medium"},{"year":2022,"month":"OCT","day":16,"usage":"low"},{"year":2022,"month":"OCT","day":17,"usage":"medium"},{"year":2022,"month":"OCT","day":18,"usage":"medium"},{"year":2022,"month":"OCT","day":19,"usage":"medium"},{"year":2022,"month":"OCT","day":20,"usage":"medium"},{"year":2022,"month":"OCT","day":21,"usage":"high"},{"year":2022,"month":"OCT","day":22,"usage":"medium"},{"year":2022,"month":"OCT","day":23,"usage":"medium"},{"year":2022,"month":"OCT","day":24,"usage":"medium"},{"year":2022,"month":"OCT","day":25,"usage":"medium"},{"year":2022,"month":"OCT","day":26,"usage":"low"},{"year":2022,"month":"OCT","day":27,"usage":"high"},{"year":2022,"month":"OCT","day":28,"usage":"medium"},{"year":2022,"month":"OCT","day":29,"usage":"medium"},{"year":2022,"month":"OCT","day":30,"usage":"high"},{"year":2022,"month":"OCT","day":31,"usage":"low"},
{"year":2022,"month":"NOV","day":1,"usage":"low"},{"year":2022,"month":"NOV","day":2,"usage":"medium"},{"year":2022,"month":"NOV","day":3,"usage":"medium"},{"year":2022,"month":"NOV","day":4,"usage":"high"},{"year":2022,"month":"NOV","day":5,"usage":"high"},{"year":2022,"month":"NOV","day":6,"usage":"high"},{"year":2022,"month":"NOV","day":7,"usage":"high"},{"year":2022,"month":"NOV","day":8,"usage":"low"},{"year":2022,"month":"NOV","day":9,"usage":"medium"},{"year":2022,"month":"NOV","day":10,"usage":"medium"},{"year":2022,"month":"NOV","day":11,"usage":"medium"},{"year":2022,"month":"NOV","day":12,"usage":"medium"},{"year":2022,"month":"NOV","day":13,"usage":"low"},{"year":2022,"month":"NOV","day":14,"usage":"low"},{"year":2022,"month":"NOV","day":15,"usage":"medium"},{"year":2022,"month":"NOV","day":16,"usage":"low"},{"year":2022,"month":"NOV","day":17,"usage":"medium"},{"year":2022,"month":"NOV","day":18,"usage":"medium"},{"year":2022,"month":"NOV","day":19,"usage":"high"},{"year":2022,"month":"NOV","day":20,"usage":"medium"},{"year":2022,"month":"NOV","day":21,"usage":"high"},{"year":2022,"month":"NOV","day":22,"usage":"medium"},{"year":2022,"month":"NOV","day":23,"usage":"high"},{"year":2022,"month":"NOV","day":24,"usage":"medium"},{"year":2022,"month":"NOV","day":25,"usage":"medium"},{"year":2022,"month":"NOV","day":26,"usage":"low"},{"year":2022,"month":"NOV","day":27,"usage":"high"},{"year":2022,"month":"NOV","day":28,"usage":"medium"},{"year":2022,"month":"NOV","day":29,"usage":"medium"},{"year":2022,"month":"NOV","day":30,"usage":"medium"},
{"year":2022,"month":"DEC","day":1,"usage":"low"},{"year":2022,"month":"DEC","day":2,"usage":"high"},{"year":2022,"month":"DEC","day":3,"usage":"medium"},{"year":2022,"month":"DEC","day":4,"usage":"medium"},{"year":2022,"month":"DEC","day":5,"usage":"high"},{"year":2022,"month":"DEC","day":6,"usage":"low"},{"year":2022,"month":"DEC","day":7,"usage":"medium"},{"year":2022,"month":"DEC","day":8,"usage":"medium"},{"year":2022,"month":"DEC","day":9,"usage":"medium"},{"year":2022,"month":"DEC","day":10,"usage":"medium"},{"year":2022,"month":"DEC","day":11,"usage":"high"},{"year":2022,"month":"DEC","day":12,"usage":"medium"},{"year":2022,"month":"DEC","day":13,"usage":"medium"},{"year":2022,"month":"DEC","day":14,"usage":"medium"},{"year":2022,"month":"DEC","day":15,"usage":"medium"},{"year":2022,"month":"DEC","day":16,"usage":"low"},{"year":2022,"month":"DEC","day":17,"usage":"medium"},{"year":2022,"month":"DEC","day":18,"usage":"low"},{"year":2022,"month":"DEC","day":19,"usage":"low"},{"year":2022,"month":"DEC","day":20,"usage":"high"},{"year":2022,"month":"DEC","day":21,"usage":"medium"},{"year":2022,"month":"DEC","day":22,"usage":"medium"},{"year":2022,"month":"DEC","day":23,"usage":"medium"},{"year":2022,"month":"DEC","day":24,"usage":"low"},{"year":2022,"month":"DEC","day":25,"usage":"medium"},{"year":2022,"month":"DEC","day":26,"usage":"medium"},{"year":2022,"month":"DEC","day":27,"usage":"medium"},{"year":2022,"month":"DEC","day":28,"usage":"high"},{"year":2022,"month":"DEC","day":29,"usage":"medium"},{"year":2022,"month":"DEC","day":30,"usage":"medium"},{"year":2022,"month":"DEC","day":31,"usage":"low"}
]},
"mark":{"type":"bar"},
"encoding":{
"x":{"field":"year","type":"ordinal","scale":{"paddingInner":0,"paddingOuter":0},"axis":{"orient":"bottom","title":null,"domain":false,"grid":false,"bandPosition":0,"tickOffset":4,"tickSize":64,"tickColor":"#d6d6d6","tickWidth":1,"offset":24,"labelAngle":0,"labelAlign":"left","labelBaseline":"alphabetic","labelPadding":-2,"labelOffset":-231,"labelFont":"Lato","labelFontSize":25,"labelFontWeight":700,"labelColor":"#141414","labelFlush":false,"labelOverlap":false}},
"xOffset":{"field":"day","type":"ordinal","scale":{"paddingInner":0.5,"paddingOuter":0.25}},
"y":{"field":"month","type":"ordinal","sort":["JAN","FEB","MAR","APR","MAY","JUN","JUL","AUG","SEP","OCT","NOV","DEC"],"scale":{"paddingInner":0.1176,"paddingOuter":0.0588},"axis":{"orient":"left","title":null,"domain":false,"ticks":false,"tickSize":0,"grid":false,"labelPadding":115,"labelAlign":"left","labelBaseline":"middle","labelFont":"Lato","labelFontSize":25,"labelFontWeight":700,"labelColor":"#141414"}},
"color":{"field":"usage","type":"nominal","scale":{"domain":["low","medium","high"],"range":["#b3b6d8","#212241","#ff4230"]},"legend":{"title":null,"orient":"none","legendX":1560,"legendY":-115,"direction":"horizontal","columns":3,"columnPadding":24,"padding":0,"symbolType":"M-1,-0.0667H1V0.0667H-1Z","symbolSize":14400,"symbolStrokeWidth":0,"symbolOpacity":1,"labelFont":"Lato","labelFontSize":25,"labelFontWeight":700,"labelColor":"#141414","labelLimit":300,"labelExpr":"{'low': '1K - 5K', 'medium': '5K - 10K', 'high': '10K - 20K'}[datum.label]","encode":{"symbols":{"update":{"x":{"value":60},"y":{"value":20}}},"labels":{"update":{"x":{"value":0},"y":{"value":4},"align":{"value":"left"},"baseline":{"value":"alphabetic"}}}}}}
}}
